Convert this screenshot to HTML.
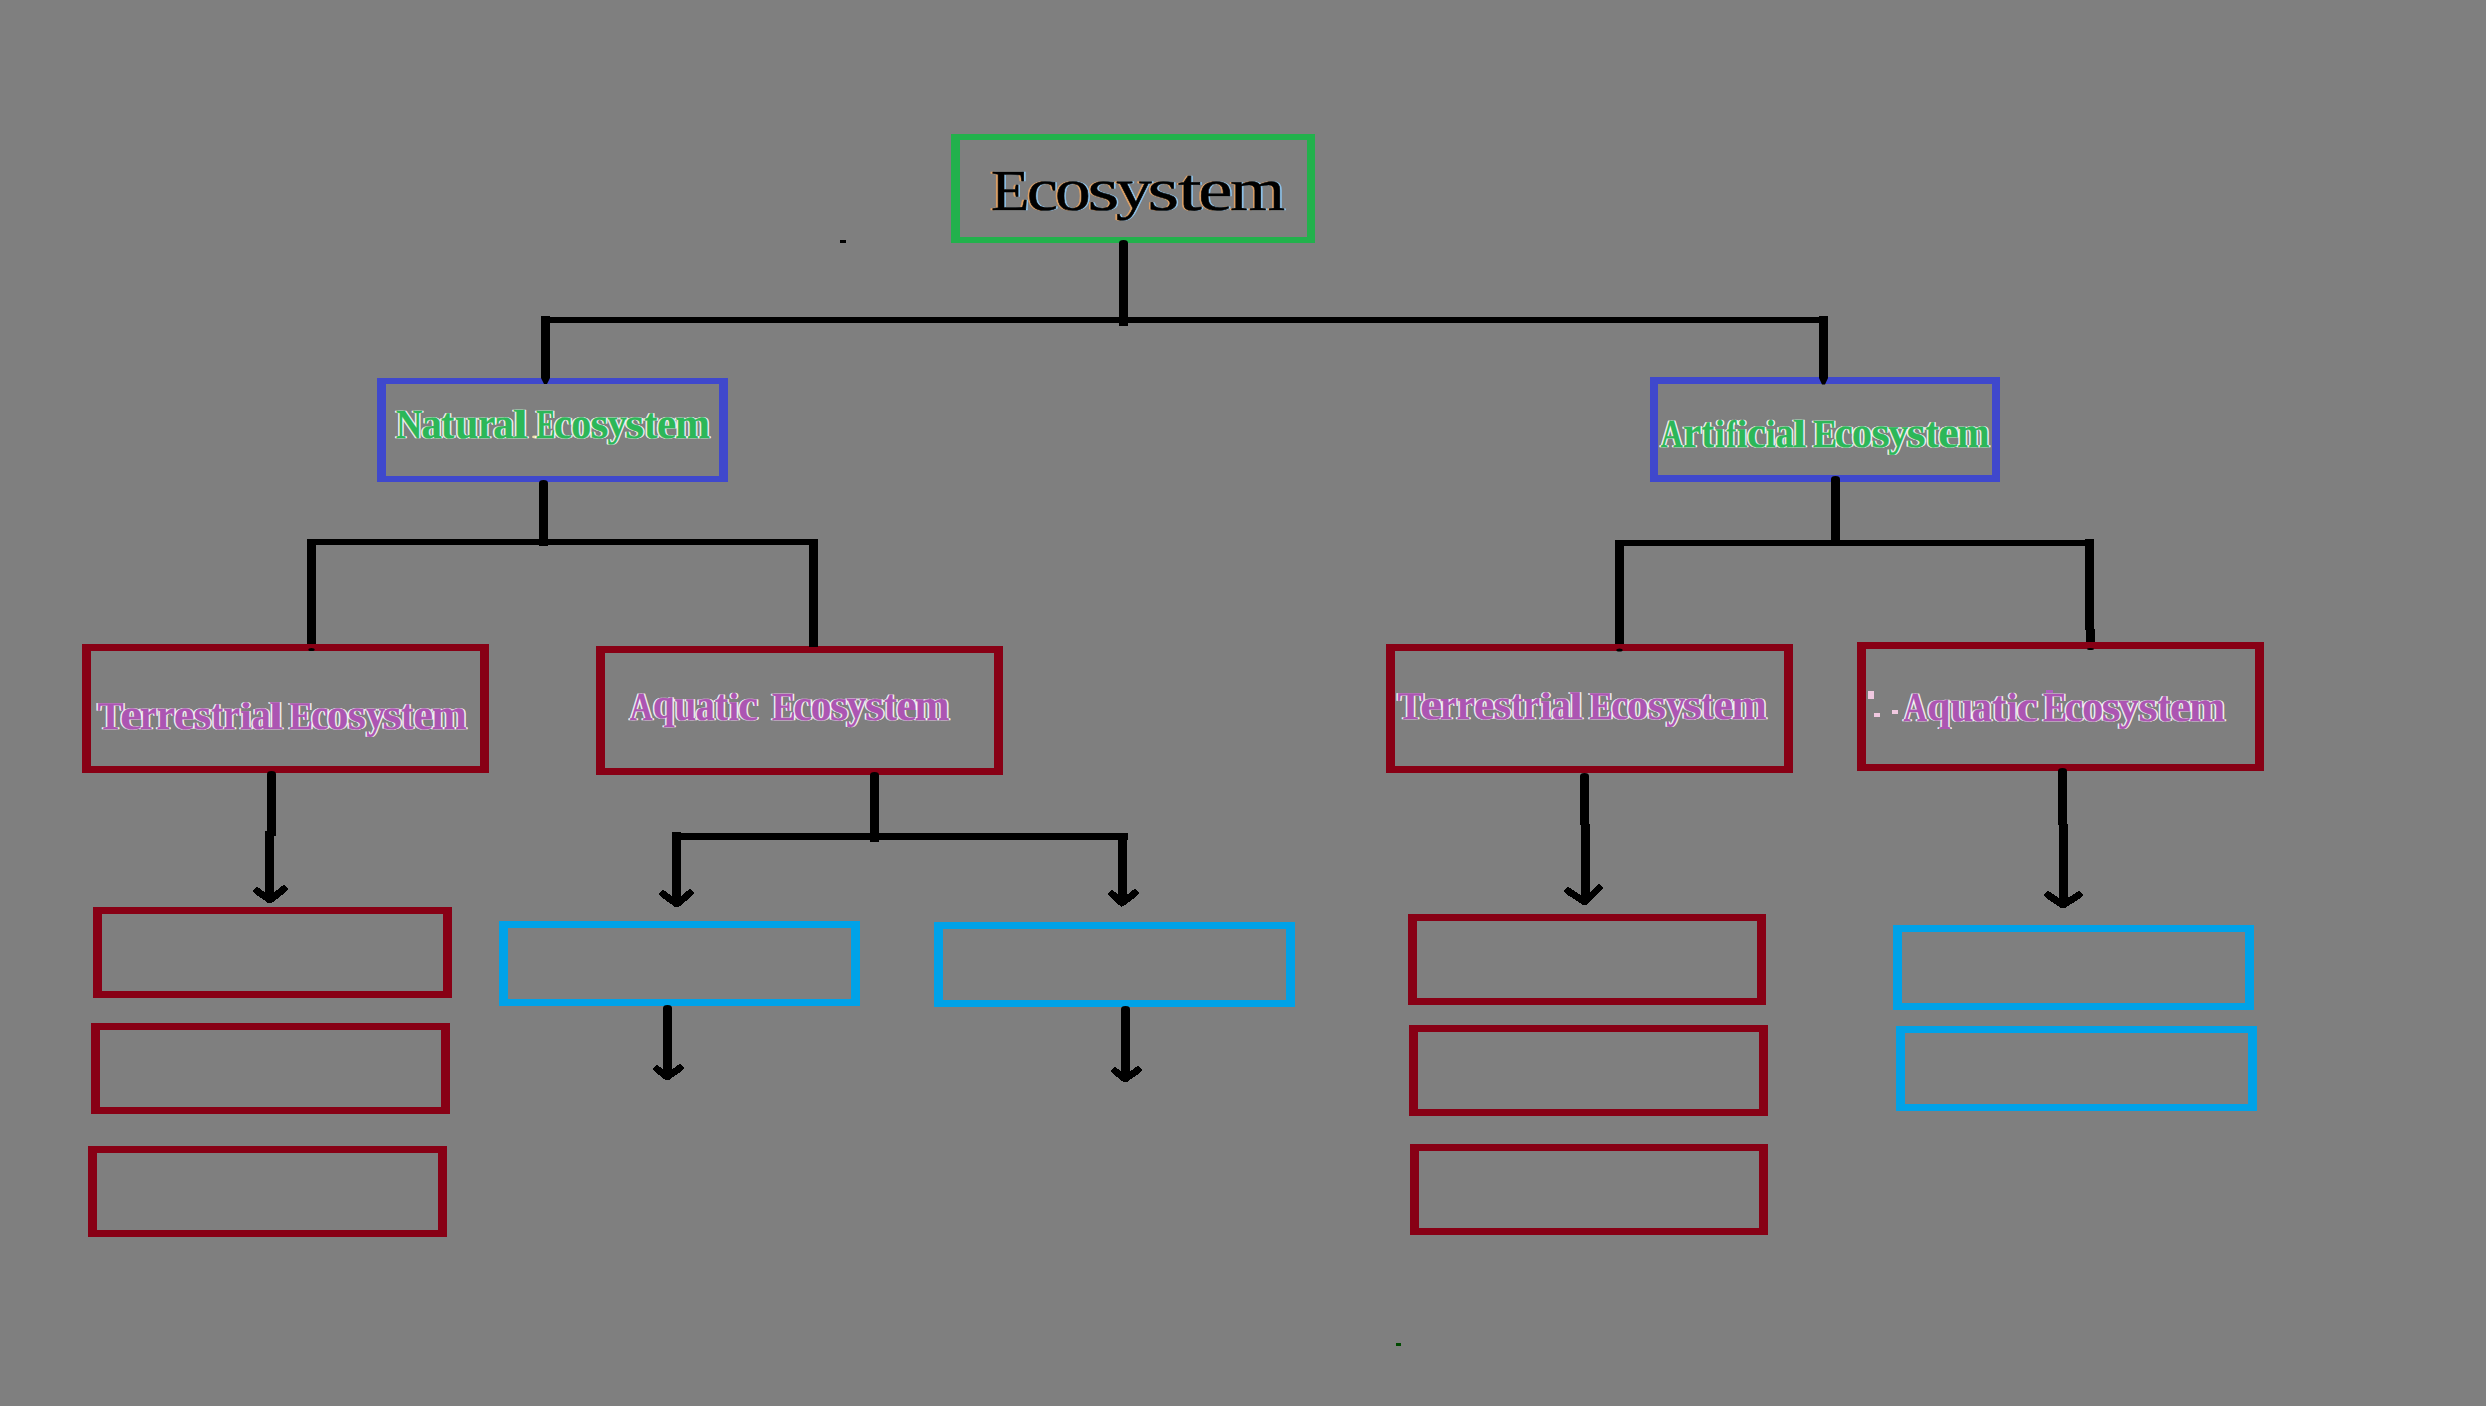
<!DOCTYPE html>
<html><head><meta charset="utf-8"><title>Ecosystem</title>
<style>
html,body{margin:0;padding:0;background:#7f7f7f;}
body{width:2486px;height:1406px;overflow:hidden;}
svg{display:block;}
text{font-family:"Liberation Serif",serif;}
</style></head>
<body>
<svg width="2486" height="1406" viewBox="0 0 2486 1406" shape-rendering="crispEdges">
<rect x="0" y="0" width="2486" height="1406" fill="#7f7f7f"/>
<g>
<rect x="951" y="134" width="364" height="6" fill="#22b14c"/>
<rect x="951" y="237" width="364" height="6" fill="#22b14c"/>
<rect x="951" y="134" width="9" height="109" fill="#22b14c"/>
<rect x="1307" y="134" width="8" height="109" fill="#22b14c"/>
<rect x="377" y="378" width="351" height="6" fill="#3f48cc"/>
<rect x="377" y="476" width="351" height="6" fill="#3f48cc"/>
<rect x="377" y="378" width="9" height="104" fill="#3f48cc"/>
<rect x="719" y="378" width="9" height="104" fill="#3f48cc"/>
<rect x="1650" y="377" width="350" height="7" fill="#3f48cc"/>
<rect x="1650" y="475" width="350" height="7" fill="#3f48cc"/>
<rect x="1650" y="377" width="8" height="105" fill="#3f48cc"/>
<rect x="1992" y="377" width="8" height="105" fill="#3f48cc"/>
<rect x="82" y="644" width="407" height="7" fill="#880015"/>
<rect x="82" y="766" width="407" height="7" fill="#880015"/>
<rect x="82" y="644" width="9" height="129" fill="#880015"/>
<rect x="480" y="644" width="9" height="129" fill="#880015"/>
<rect x="596" y="646" width="407" height="7" fill="#880015"/>
<rect x="596" y="768" width="407" height="7" fill="#880015"/>
<rect x="596" y="646" width="9" height="129" fill="#880015"/>
<rect x="994" y="646" width="9" height="129" fill="#880015"/>
<rect x="1386" y="644" width="407" height="7" fill="#880015"/>
<rect x="1386" y="766" width="407" height="7" fill="#880015"/>
<rect x="1386" y="644" width="9" height="129" fill="#880015"/>
<rect x="1784" y="644" width="9" height="129" fill="#880015"/>
<rect x="1857" y="642" width="407" height="7" fill="#880015"/>
<rect x="1857" y="764" width="407" height="7" fill="#880015"/>
<rect x="1857" y="642" width="9" height="129" fill="#880015"/>
<rect x="2255" y="642" width="9" height="129" fill="#880015"/>
<rect x="93" y="907" width="359" height="7" fill="#880015"/>
<rect x="93" y="991" width="359" height="7" fill="#880015"/>
<rect x="93" y="907" width="9" height="91" fill="#880015"/>
<rect x="443" y="907" width="9" height="91" fill="#880015"/>
<rect x="91" y="1023" width="359" height="7" fill="#880015"/>
<rect x="91" y="1107" width="359" height="7" fill="#880015"/>
<rect x="91" y="1023" width="9" height="91" fill="#880015"/>
<rect x="441" y="1023" width="9" height="91" fill="#880015"/>
<rect x="88" y="1146" width="359" height="7" fill="#880015"/>
<rect x="88" y="1230" width="359" height="7" fill="#880015"/>
<rect x="88" y="1146" width="9" height="91" fill="#880015"/>
<rect x="438" y="1146" width="9" height="91" fill="#880015"/>
<rect x="1408" y="914" width="358" height="7" fill="#880015"/>
<rect x="1408" y="998" width="358" height="7" fill="#880015"/>
<rect x="1408" y="914" width="9" height="91" fill="#880015"/>
<rect x="1757" y="914" width="9" height="91" fill="#880015"/>
<rect x="1409" y="1025" width="359" height="7" fill="#880015"/>
<rect x="1409" y="1109" width="359" height="7" fill="#880015"/>
<rect x="1409" y="1025" width="9" height="91" fill="#880015"/>
<rect x="1759" y="1025" width="9" height="91" fill="#880015"/>
<rect x="1410" y="1144" width="358" height="7" fill="#880015"/>
<rect x="1410" y="1228" width="358" height="7" fill="#880015"/>
<rect x="1410" y="1144" width="9" height="91" fill="#880015"/>
<rect x="1759" y="1144" width="9" height="91" fill="#880015"/>
<rect x="499" y="921" width="361" height="7" fill="#00a2e8"/>
<rect x="499" y="999" width="361" height="7" fill="#00a2e8"/>
<rect x="499" y="921" width="9" height="85" fill="#00a2e8"/>
<rect x="851" y="921" width="9" height="85" fill="#00a2e8"/>
<rect x="934" y="922" width="361" height="7" fill="#00a2e8"/>
<rect x="934" y="1000" width="361" height="7" fill="#00a2e8"/>
<rect x="934" y="922" width="9" height="85" fill="#00a2e8"/>
<rect x="1286" y="922" width="9" height="85" fill="#00a2e8"/>
<rect x="1893" y="925" width="361" height="7" fill="#00a2e8"/>
<rect x="1893" y="1003" width="361" height="7" fill="#00a2e8"/>
<rect x="1893" y="925" width="9" height="85" fill="#00a2e8"/>
<rect x="2245" y="925" width="9" height="85" fill="#00a2e8"/>
<rect x="1896" y="1026" width="361" height="7" fill="#00a2e8"/>
<rect x="1896" y="1104" width="361" height="7" fill="#00a2e8"/>
<rect x="1896" y="1026" width="9" height="85" fill="#00a2e8"/>
<rect x="2248" y="1026" width="9" height="85" fill="#00a2e8"/>
<rect x="1119" y="243.0" width="9" height="83.0" fill="#000"/>
<ellipse cx="1123.5" cy="243.0" rx="4.5" ry="3.0" fill="#000" shape-rendering="auto"/>
<rect x="541" y="317" width="1287" height="6" fill="#000"/>
<rect x="541" y="316" width="9" height="62" fill="#000"/>
<path d="M541,378 L550,378 L547.0,384 L544.0,384 Z" fill="#000" shape-rendering="auto"/>
<rect x="1819" y="316" width="9" height="62" fill="#000"/>
<path d="M1819,378 L1828,378 L1825.0,384.5 L1822.0,384.5 Z" fill="#000" shape-rendering="auto"/>
<rect x="539" y="483.0" width="9" height="63.0" fill="#000"/>
<ellipse cx="543.5" cy="483.0" rx="4.5" ry="3.0" fill="#000" shape-rendering="auto"/>
<rect x="307" y="539" width="511" height="6" fill="#000"/>
<rect x="307" y="540" width="9" height="104" fill="#000"/>
<ellipse cx="311.5" cy="649.5" rx="3.2" ry="1.6" fill="#000" shape-rendering="auto"/>
<rect x="809" y="539" width="9" height="108" fill="#000"/>
<rect x="1831" y="479.0" width="9" height="67.0" fill="#000"/>
<ellipse cx="1835.5" cy="479.0" rx="4.5" ry="3.0" fill="#000" shape-rendering="auto"/>
<rect x="1615" y="540" width="479" height="6" fill="#000"/>
<rect x="1615" y="540" width="9" height="104" fill="#000"/>
<ellipse cx="1619.5" cy="650" rx="3.2" ry="1.6" fill="#000" shape-rendering="auto"/>
<rect x="2085" y="539" width="9" height="91" fill="#000"/>
<rect x="2086" y="629" width="9" height="13" fill="#000"/>
<ellipse cx="2090.5" cy="649" rx="3.4" ry="1.1" fill="#000" shape-rendering="auto"/>
<rect x="870" y="775.0" width="9" height="67.0" fill="#000"/>
<ellipse cx="874.5" cy="775.0" rx="4.5" ry="3.0" fill="#000" shape-rendering="auto"/>
<rect x="672" y="833" width="456" height="7" fill="#000"/>
<rect x="672" y="832" width="9" height="72" fill="#000"/>
<rect x="1118" y="833" width="9" height="70" fill="#000"/>
<polyline points="663,894 677,904 690,893" fill="none" stroke="#000" stroke-width="7" stroke-linecap="round" stroke-linejoin="round"/>
<polyline points="1112,894 1122,903 1135,893" fill="none" stroke="#000" stroke-width="7" stroke-linecap="round" stroke-linejoin="round"/>
<rect x="267" y="774.0" width="9" height="62.0" fill="#000"/>
<ellipse cx="271.5" cy="774.0" rx="4.5" ry="3.0" fill="#000" shape-rendering="auto"/>
<rect x="265" y="831" width="9" height="69" fill="#000"/>
<polyline points="257,891 270,900 284,889" fill="none" stroke="#000" stroke-width="7" stroke-linecap="round" stroke-linejoin="round"/>
<rect x="1580" y="776.0" width="9" height="49.0" fill="#000"/>
<ellipse cx="1584.5" cy="776.0" rx="4.5" ry="3.0" fill="#000" shape-rendering="auto"/>
<rect x="1581" y="824" width="9" height="78" fill="#000"/>
<polyline points="1568,891 1585,902 1599,888" fill="none" stroke="#000" stroke-width="7" stroke-linecap="round" stroke-linejoin="round"/>
<rect x="2058" y="771.0" width="9" height="54.0" fill="#000"/>
<ellipse cx="2062.5" cy="771.0" rx="4.5" ry="3.0" fill="#000" shape-rendering="auto"/>
<rect x="2059" y="824" width="9" height="81" fill="#000"/>
<polyline points="2048,895 2063,905 2079,895" fill="none" stroke="#000" stroke-width="7" stroke-linecap="round" stroke-linejoin="round"/>
<rect x="663" y="1008.0" width="9" height="69.0" fill="#000"/>
<ellipse cx="667.5" cy="1008.0" rx="4.5" ry="3.0" fill="#000" shape-rendering="auto"/>
<polyline points="657,1069 667,1077 680,1068" fill="none" stroke="#000" stroke-width="7" stroke-linecap="round" stroke-linejoin="round"/>
<rect x="1121" y="1009.0" width="9" height="70.0" fill="#000"/>
<ellipse cx="1125.5" cy="1009.0" rx="4.5" ry="3.0" fill="#000" shape-rendering="auto"/>
<polyline points="1115,1071 1125,1079 1138,1070" fill="none" stroke="#000" stroke-width="7" stroke-linecap="round" stroke-linejoin="round"/>
<ellipse cx="535" cy="437" rx="3" ry="1.4" fill="#f0e0a8" shape-rendering="auto"/>
<rect x="840" y="240" width="6" height="3" fill="#000"/>
<rect x="1396" y="1343" width="5" height="3" fill="#004a00"/>
<rect x="2046" y="690" width="7" height="3" fill="#b060c0"/>
<rect x="1868" y="691" width="6" height="8" fill="#f0c8e0"/>
<rect x="1874" y="713" width="6" height="4" fill="#f0c8e0"/>
<rect x="1892" y="710" width="6" height="4" fill="#f0c8e0"/>
</g>
<g shape-rendering="auto" text-rendering="geometricPrecision">
<text transform="matrix(1.0846 0 0 1.0000 989.09 210.00)" font-size="58.03" font-weight="normal" fill="#f0a860" fill-opacity="0.8" stroke="#f0a860" stroke-opacity="0.8" stroke-width="0.3">E</text>
<text transform="matrix(1.0846 0 0 1.0000 992.69 210.00)" font-size="58.03" font-weight="normal" fill="#90d0ff" fill-opacity="0.8" stroke="#90d0ff" stroke-opacity="0.8" stroke-width="0.3">E</text>
<text transform="matrix(1.1993 0 0 1.0437 1025.25 210.00)" font-size="58.03" font-weight="normal" fill="#f0a860" fill-opacity="0.8" stroke="#f0a860" stroke-opacity="0.8" stroke-width="0.3">c</text>
<text transform="matrix(1.1993 0 0 1.0437 1028.85 210.00)" font-size="58.03" font-weight="normal" fill="#90d0ff" fill-opacity="0.8" stroke="#90d0ff" stroke-opacity="0.8" stroke-width="0.3">c</text>
<text transform="matrix(1.2319 0 0 1.0437 1053.18 210.00)" font-size="58.03" font-weight="normal" fill="#f0a860" fill-opacity="0.8" stroke="#f0a860" stroke-opacity="0.8" stroke-width="0.3">o</text>
<text transform="matrix(1.2319 0 0 1.0437 1056.78 210.00)" font-size="58.03" font-weight="normal" fill="#90d0ff" fill-opacity="0.8" stroke="#90d0ff" stroke-opacity="0.8" stroke-width="0.3">o</text>
<text transform="matrix(1.4083 0 0 1.0437 1085.75 210.00)" font-size="58.03" font-weight="normal" fill="#f0a860" fill-opacity="0.8" stroke="#f0a860" stroke-opacity="0.8" stroke-width="0.3">s</text>
<text transform="matrix(1.4083 0 0 1.0437 1089.35 210.00)" font-size="58.03" font-weight="normal" fill="#90d0ff" fill-opacity="0.8" stroke="#90d0ff" stroke-opacity="0.8" stroke-width="0.3">s</text>
<text transform="matrix(1.2393 0 0 0.9857 1114.12 208.45)" font-size="58.03" font-weight="normal" fill="#f0a860" fill-opacity="0.8" stroke="#f0a860" stroke-opacity="0.8" stroke-width="0.3">y</text>
<text transform="matrix(1.2393 0 0 0.9857 1117.72 208.45)" font-size="58.03" font-weight="normal" fill="#90d0ff" fill-opacity="0.8" stroke="#90d0ff" stroke-opacity="0.8" stroke-width="0.3">y</text>
<text transform="matrix(1.4028 0 0 1.0437 1145.66 210.00)" font-size="58.03" font-weight="normal" fill="#f0a860" fill-opacity="0.8" stroke="#f0a860" stroke-opacity="0.8" stroke-width="0.3">s</text>
<text transform="matrix(1.4028 0 0 1.0437 1149.26 210.00)" font-size="58.03" font-weight="normal" fill="#90d0ff" fill-opacity="0.8" stroke="#90d0ff" stroke-opacity="0.8" stroke-width="0.3">s</text>
<text transform="matrix(1.4721 0 0 1.0437 1176.17 210.00)" font-size="58.03" font-weight="normal" fill="#f0a860" fill-opacity="0.8" stroke="#f0a860" stroke-opacity="0.8" stroke-width="0.3">t</text>
<text transform="matrix(1.4721 0 0 1.0437 1179.77 210.00)" font-size="58.03" font-weight="normal" fill="#90d0ff" fill-opacity="0.8" stroke="#90d0ff" stroke-opacity="0.8" stroke-width="0.3">t</text>
<text transform="matrix(1.3315 0 0 1.0437 1196.48 210.00)" font-size="58.03" font-weight="normal" fill="#f0a860" fill-opacity="0.8" stroke="#f0a860" stroke-opacity="0.8" stroke-width="0.3">e</text>
<text transform="matrix(1.3315 0 0 1.0437 1200.08 210.00)" font-size="58.03" font-weight="normal" fill="#90d0ff" fill-opacity="0.8" stroke="#90d0ff" stroke-opacity="0.8" stroke-width="0.3">e</text>
<text transform="matrix(1.2135 0 0 1.0437 1228.52 210.00)" font-size="58.03" font-weight="normal" fill="#f0a860" fill-opacity="0.8" stroke="#f0a860" stroke-opacity="0.8" stroke-width="0.3">m</text>
<text transform="matrix(1.2135 0 0 1.0437 1232.12 210.00)" font-size="58.03" font-weight="normal" fill="#90d0ff" fill-opacity="0.8" stroke="#90d0ff" stroke-opacity="0.8" stroke-width="0.3">m</text>
<text transform="matrix(0.8858 0 0 1.0000 394.50 438.00)" font-size="41.23" font-weight="bold" fill="#fff" fill-opacity="0.9" stroke="#fff" stroke-opacity="0.9" stroke-width="0.3">N</text>
<text transform="matrix(0.8858 0 0 1.0000 397.50 438.00)" font-size="41.23" font-weight="bold" fill="#fff" fill-opacity="0.9" stroke="#fff" stroke-opacity="0.9" stroke-width="0.3">N</text>
<text transform="matrix(0.9859 0 0 1.0568 419.99 438.00)" font-size="41.23" font-weight="bold" fill="#fff" fill-opacity="0.9" stroke="#fff" stroke-opacity="0.9" stroke-width="0.3">a</text>
<text transform="matrix(0.9859 0 0 1.0568 422.99 438.00)" font-size="41.23" font-weight="bold" fill="#fff" fill-opacity="0.9" stroke="#fff" stroke-opacity="0.9" stroke-width="0.3">a</text>
<text transform="matrix(0.9623 0 0 1.0568 439.56 438.00)" font-size="41.23" font-weight="bold" fill="#fff" fill-opacity="0.9" stroke="#fff" stroke-opacity="0.9" stroke-width="0.3">t</text>
<text transform="matrix(0.9623 0 0 1.0568 442.56 438.00)" font-size="41.23" font-weight="bold" fill="#fff" fill-opacity="0.9" stroke="#fff" stroke-opacity="0.9" stroke-width="0.3">t</text>
<text transform="matrix(1.0094 0 0 1.0568 453.77 438.00)" font-size="41.23" font-weight="bold" fill="#fff" fill-opacity="0.9" stroke="#fff" stroke-opacity="0.9" stroke-width="0.3">u</text>
<text transform="matrix(1.0094 0 0 1.0568 456.77 438.00)" font-size="41.23" font-weight="bold" fill="#fff" fill-opacity="0.9" stroke="#fff" stroke-opacity="0.9" stroke-width="0.3">u</text>
<text transform="matrix(0.9504 0 0 1.0568 476.55 438.00)" font-size="41.23" font-weight="bold" fill="#fff" fill-opacity="0.9" stroke="#fff" stroke-opacity="0.9" stroke-width="0.3">r</text>
<text transform="matrix(0.9504 0 0 1.0568 479.55 438.00)" font-size="41.23" font-weight="bold" fill="#fff" fill-opacity="0.9" stroke="#fff" stroke-opacity="0.9" stroke-width="0.3">r</text>
<text transform="matrix(1.0073 0 0 1.0568 491.66 438.00)" font-size="41.23" font-weight="bold" fill="#fff" fill-opacity="0.9" stroke="#fff" stroke-opacity="0.9" stroke-width="0.3">a</text>
<text transform="matrix(1.0073 0 0 1.0568 494.66 438.00)" font-size="41.23" font-weight="bold" fill="#fff" fill-opacity="0.9" stroke="#fff" stroke-opacity="0.9" stroke-width="0.3">a</text>
<text transform="matrix(1.3372 0 0 0.9787 511.22 438.00)" font-size="41.23" font-weight="bold" fill="#fff" fill-opacity="0.9" stroke="#fff" stroke-opacity="0.9" stroke-width="0.3">l</text>
<text transform="matrix(1.3372 0 0 0.9787 514.22 438.00)" font-size="41.23" font-weight="bold" fill="#fff" fill-opacity="0.9" stroke="#fff" stroke-opacity="0.9" stroke-width="0.3">l</text>
<text transform="matrix(0.6968 0 0 1.0000 534.71 438.00)" font-size="41.23" font-weight="bold" fill="#fff" fill-opacity="0.9" stroke="#fff" stroke-opacity="0.9" stroke-width="0.3">E</text>
<text transform="matrix(0.6968 0 0 1.0000 537.71 438.00)" font-size="41.23" font-weight="bold" fill="#fff" fill-opacity="0.9" stroke="#fff" stroke-opacity="0.9" stroke-width="0.3">E</text>
<text transform="matrix(0.9770 0 0 1.0568 552.52 438.00)" font-size="41.23" font-weight="bold" fill="#fff" fill-opacity="0.9" stroke="#fff" stroke-opacity="0.9" stroke-width="0.3">c</text>
<text transform="matrix(0.9770 0 0 1.0568 555.52 438.00)" font-size="41.23" font-weight="bold" fill="#fff" fill-opacity="0.9" stroke="#fff" stroke-opacity="0.9" stroke-width="0.3">c</text>
<text transform="matrix(0.9670 0 0 1.0568 569.68 438.00)" font-size="41.23" font-weight="bold" fill="#fff" fill-opacity="0.9" stroke="#fff" stroke-opacity="0.9" stroke-width="0.3">o</text>
<text transform="matrix(0.9670 0 0 1.0568 572.68 438.00)" font-size="41.23" font-weight="bold" fill="#fff" fill-opacity="0.9" stroke="#fff" stroke-opacity="0.9" stroke-width="0.3">o</text>
<text transform="matrix(1.1094 0 0 1.0568 589.12 438.00)" font-size="41.23" font-weight="bold" fill="#fff" fill-opacity="0.9" stroke="#fff" stroke-opacity="0.9" stroke-width="0.3">s</text>
<text transform="matrix(1.1094 0 0 1.0568 592.12 438.00)" font-size="41.23" font-weight="bold" fill="#fff" fill-opacity="0.9" stroke="#fff" stroke-opacity="0.9" stroke-width="0.3">s</text>
<text transform="matrix(0.9338 0 0 0.9596 605.92 436.16)" font-size="41.23" font-weight="bold" fill="#fff" fill-opacity="0.9" stroke="#fff" stroke-opacity="0.9" stroke-width="0.3">y</text>
<text transform="matrix(0.9338 0 0 0.9596 608.92 436.16)" font-size="41.23" font-weight="bold" fill="#fff" fill-opacity="0.9" stroke="#fff" stroke-opacity="0.9" stroke-width="0.3">y</text>
<text transform="matrix(1.1746 0 0 1.0568 623.83 438.00)" font-size="41.23" font-weight="bold" fill="#fff" fill-opacity="0.9" stroke="#fff" stroke-opacity="0.9" stroke-width="0.3">s</text>
<text transform="matrix(1.1746 0 0 1.0568 626.83 438.00)" font-size="41.23" font-weight="bold" fill="#fff" fill-opacity="0.9" stroke="#fff" stroke-opacity="0.9" stroke-width="0.3">s</text>
<text transform="matrix(0.9546 0 0 1.0568 642.67 438.00)" font-size="41.23" font-weight="bold" fill="#fff" fill-opacity="0.9" stroke="#fff" stroke-opacity="0.9" stroke-width="0.3">t</text>
<text transform="matrix(0.9546 0 0 1.0568 645.67 438.00)" font-size="41.23" font-weight="bold" fill="#fff" fill-opacity="0.9" stroke="#fff" stroke-opacity="0.9" stroke-width="0.3">t</text>
<text transform="matrix(1.0490 0 0 1.0568 655.62 438.00)" font-size="41.23" font-weight="bold" fill="#fff" fill-opacity="0.9" stroke="#fff" stroke-opacity="0.9" stroke-width="0.3">e</text>
<text transform="matrix(1.0490 0 0 1.0568 658.62 438.00)" font-size="41.23" font-weight="bold" fill="#fff" fill-opacity="0.9" stroke="#fff" stroke-opacity="0.9" stroke-width="0.3">e</text>
<text transform="matrix(1.0081 0 0 1.0568 673.68 438.00)" font-size="41.23" font-weight="bold" fill="#fff" fill-opacity="0.9" stroke="#fff" stroke-opacity="0.9" stroke-width="0.3">m</text>
<text transform="matrix(1.0081 0 0 1.0568 676.68 438.00)" font-size="41.23" font-weight="bold" fill="#fff" fill-opacity="0.9" stroke="#fff" stroke-opacity="0.9" stroke-width="0.3">m</text>
<text transform="matrix(0.7644 0 0 1.0000 1659.20 447.00)" font-size="39.71" font-weight="bold" fill="#fff" fill-opacity="0.9" stroke="#fff" stroke-opacity="0.9" stroke-width="0.3">A</text>
<text transform="matrix(0.7644 0 0 1.0000 1662.20 447.00)" font-size="39.71" font-weight="bold" fill="#fff" fill-opacity="0.9" stroke="#fff" stroke-opacity="0.9" stroke-width="0.3">A</text>
<text transform="matrix(1.0316 0 0 1.0974 1681.60 447.00)" font-size="39.71" font-weight="bold" fill="#fff" fill-opacity="0.9" stroke="#fff" stroke-opacity="0.9" stroke-width="0.3">r</text>
<text transform="matrix(1.0316 0 0 1.0974 1684.60 447.00)" font-size="39.71" font-weight="bold" fill="#fff" fill-opacity="0.9" stroke="#fff" stroke-opacity="0.9" stroke-width="0.3">r</text>
<text transform="matrix(0.9429 0 0 1.0974 1700.10 447.00)" font-size="39.71" font-weight="bold" fill="#fff" fill-opacity="0.9" stroke="#fff" stroke-opacity="0.9" stroke-width="0.3">t</text>
<text transform="matrix(0.9429 0 0 1.0974 1703.10 447.00)" font-size="39.71" font-weight="bold" fill="#fff" fill-opacity="0.9" stroke="#fff" stroke-opacity="0.9" stroke-width="0.3">t</text>
<text transform="matrix(0.8875 0 0 0.9800 1713.43 447.00)" font-size="39.71" font-weight="bold" fill="#fff" fill-opacity="0.9" stroke="#fff" stroke-opacity="0.9" stroke-width="0.3">i</text>
<text transform="matrix(0.8875 0 0 0.9800 1716.43 447.00)" font-size="39.71" font-weight="bold" fill="#fff" fill-opacity="0.9" stroke="#fff" stroke-opacity="0.9" stroke-width="0.3">i</text>
<text transform="matrix(0.7358 0 0 0.9657 1724.99 447.00)" font-size="39.71" font-weight="bold" fill="#fff" fill-opacity="0.9" stroke="#fff" stroke-opacity="0.9" stroke-width="0.3">f</text>
<text transform="matrix(0.7358 0 0 0.9657 1727.99 447.00)" font-size="39.71" font-weight="bold" fill="#fff" fill-opacity="0.9" stroke="#fff" stroke-opacity="0.9" stroke-width="0.3">f</text>
<text transform="matrix(0.9606 0 0 0.9800 1735.26 447.00)" font-size="39.71" font-weight="bold" fill="#fff" fill-opacity="0.9" stroke="#fff" stroke-opacity="0.9" stroke-width="0.3">i</text>
<text transform="matrix(0.9606 0 0 0.9800 1738.26 447.00)" font-size="39.71" font-weight="bold" fill="#fff" fill-opacity="0.9" stroke="#fff" stroke-opacity="0.9" stroke-width="0.3">i</text>
<text transform="matrix(1.0604 0 0 1.0974 1745.66 447.00)" font-size="39.71" font-weight="bold" fill="#fff" fill-opacity="0.9" stroke="#fff" stroke-opacity="0.9" stroke-width="0.3">c</text>
<text transform="matrix(1.0604 0 0 1.0974 1748.66 447.00)" font-size="39.71" font-weight="bold" fill="#fff" fill-opacity="0.9" stroke="#fff" stroke-opacity="0.9" stroke-width="0.3">c</text>
<text transform="matrix(0.8875 0 0 0.9800 1764.33 447.00)" font-size="39.71" font-weight="bold" fill="#fff" fill-opacity="0.9" stroke="#fff" stroke-opacity="0.9" stroke-width="0.3">i</text>
<text transform="matrix(0.8875 0 0 0.9800 1767.33 447.00)" font-size="39.71" font-weight="bold" fill="#fff" fill-opacity="0.9" stroke="#fff" stroke-opacity="0.9" stroke-width="0.3">i</text>
<text transform="matrix(0.9014 0 0 1.0974 1774.25 447.00)" font-size="39.71" font-weight="bold" fill="#fff" fill-opacity="0.9" stroke="#fff" stroke-opacity="0.9" stroke-width="0.3">a</text>
<text transform="matrix(0.9014 0 0 1.0974 1777.25 447.00)" font-size="39.71" font-weight="bold" fill="#fff" fill-opacity="0.9" stroke="#fff" stroke-opacity="0.9" stroke-width="0.3">a</text>
<text transform="matrix(1.2216 0 0 0.9800 1791.15 447.00)" font-size="39.71" font-weight="bold" fill="#fff" fill-opacity="0.9" stroke="#fff" stroke-opacity="0.9" stroke-width="0.3">l</text>
<text transform="matrix(1.2216 0 0 0.9800 1794.15 447.00)" font-size="39.71" font-weight="bold" fill="#fff" fill-opacity="0.9" stroke="#fff" stroke-opacity="0.9" stroke-width="0.3">l</text>
<text transform="matrix(0.9129 0 0 1.0000 1811.48 447.00)" font-size="39.71" font-weight="bold" fill="#fff" fill-opacity="0.9" stroke="#fff" stroke-opacity="0.9" stroke-width="0.3">E</text>
<text transform="matrix(0.9129 0 0 1.0000 1814.48 447.00)" font-size="39.71" font-weight="bold" fill="#fff" fill-opacity="0.9" stroke="#fff" stroke-opacity="0.9" stroke-width="0.3">E</text>
<text transform="matrix(1.0211 0 0 1.0974 1833.21 447.00)" font-size="39.71" font-weight="bold" fill="#fff" fill-opacity="0.9" stroke="#fff" stroke-opacity="0.9" stroke-width="0.3">c</text>
<text transform="matrix(1.0211 0 0 1.0974 1836.21 447.00)" font-size="39.71" font-weight="bold" fill="#fff" fill-opacity="0.9" stroke="#fff" stroke-opacity="0.9" stroke-width="0.3">c</text>
<text transform="matrix(1.0042 0 0 1.0974 1850.48 447.00)" font-size="39.71" font-weight="bold" fill="#fff" fill-opacity="0.9" stroke="#fff" stroke-opacity="0.9" stroke-width="0.3">o</text>
<text transform="matrix(1.0042 0 0 1.0974 1853.48 447.00)" font-size="39.71" font-weight="bold" fill="#fff" fill-opacity="0.9" stroke="#fff" stroke-opacity="0.9" stroke-width="0.3">o</text>
<text transform="matrix(1.1746 0 0 1.0974 1869.89 447.00)" font-size="39.71" font-weight="bold" fill="#fff" fill-opacity="0.9" stroke="#fff" stroke-opacity="0.9" stroke-width="0.3">s</text>
<text transform="matrix(1.1746 0 0 1.0974 1872.89 447.00)" font-size="39.71" font-weight="bold" fill="#fff" fill-opacity="0.9" stroke="#fff" stroke-opacity="0.9" stroke-width="0.3">s</text>
<text transform="matrix(1.0012 0 0 1.0338 1886.71 445.84)" font-size="39.71" font-weight="bold" fill="#fff" fill-opacity="0.9" stroke="#fff" stroke-opacity="0.9" stroke-width="0.3">y</text>
<text transform="matrix(1.0012 0 0 1.0338 1889.71 445.84)" font-size="39.71" font-weight="bold" fill="#fff" fill-opacity="0.9" stroke="#fff" stroke-opacity="0.9" stroke-width="0.3">y</text>
<text transform="matrix(1.2198 0 0 1.0974 1905.23 447.00)" font-size="39.71" font-weight="bold" fill="#fff" fill-opacity="0.9" stroke="#fff" stroke-opacity="0.9" stroke-width="0.3">s</text>
<text transform="matrix(1.2198 0 0 1.0974 1908.23 447.00)" font-size="39.71" font-weight="bold" fill="#fff" fill-opacity="0.9" stroke="#fff" stroke-opacity="0.9" stroke-width="0.3">s</text>
<text transform="matrix(0.9993 0 0 1.0974 1924.06 447.00)" font-size="39.71" font-weight="bold" fill="#fff" fill-opacity="0.9" stroke="#fff" stroke-opacity="0.9" stroke-width="0.3">t</text>
<text transform="matrix(0.9993 0 0 1.0974 1927.06 447.00)" font-size="39.71" font-weight="bold" fill="#fff" fill-opacity="0.9" stroke="#fff" stroke-opacity="0.9" stroke-width="0.3">t</text>
<text transform="matrix(1.1549 0 0 1.0974 1936.63 447.00)" font-size="39.71" font-weight="bold" fill="#fff" fill-opacity="0.9" stroke="#fff" stroke-opacity="0.9" stroke-width="0.3">e</text>
<text transform="matrix(1.1549 0 0 1.0974 1939.63 447.00)" font-size="39.71" font-weight="bold" fill="#fff" fill-opacity="0.9" stroke="#fff" stroke-opacity="0.9" stroke-width="0.3">e</text>
<text transform="matrix(0.9735 0 0 1.0974 1955.86 447.00)" font-size="39.71" font-weight="bold" fill="#fff" fill-opacity="0.9" stroke="#fff" stroke-opacity="0.9" stroke-width="0.3">m</text>
<text transform="matrix(0.9735 0 0 1.0974 1958.86 447.00)" font-size="39.71" font-weight="bold" fill="#fff" fill-opacity="0.9" stroke="#fff" stroke-opacity="0.9" stroke-width="0.3">m</text>
<text transform="matrix(0.9973 0 0 1.0000 95.89 728.80)" font-size="39.40" font-weight="bold" fill="#fff" fill-opacity="0.9" stroke="#fff" stroke-opacity="0.9" stroke-width="0.3">T</text>
<text transform="matrix(0.9973 0 0 1.0000 98.89 728.80)" font-size="39.40" font-weight="bold" fill="#fff" fill-opacity="0.9" stroke="#fff" stroke-opacity="0.9" stroke-width="0.3">T</text>
<text transform="matrix(1.2432 0 0 1.1059 118.73 728.80)" font-size="39.40" font-weight="bold" fill="#fff" fill-opacity="0.9" stroke="#fff" stroke-opacity="0.9" stroke-width="0.3">e</text>
<text transform="matrix(1.2432 0 0 1.1059 121.73 728.80)" font-size="39.40" font-weight="bold" fill="#fff" fill-opacity="0.9" stroke="#fff" stroke-opacity="0.9" stroke-width="0.3">e</text>
<text transform="matrix(0.9818 0 0 1.1059 138.26 728.80)" font-size="39.40" font-weight="bold" fill="#fff" fill-opacity="0.9" stroke="#fff" stroke-opacity="0.9" stroke-width="0.3">r</text>
<text transform="matrix(0.9818 0 0 1.1059 141.26 728.80)" font-size="39.40" font-weight="bold" fill="#fff" fill-opacity="0.9" stroke="#fff" stroke-opacity="0.9" stroke-width="0.3">r</text>
<text transform="matrix(1.0588 0 0 1.1059 154.98 728.80)" font-size="39.40" font-weight="bold" fill="#fff" fill-opacity="0.9" stroke="#fff" stroke-opacity="0.9" stroke-width="0.3">r</text>
<text transform="matrix(1.0588 0 0 1.1059 157.98 728.80)" font-size="39.40" font-weight="bold" fill="#fff" fill-opacity="0.9" stroke="#fff" stroke-opacity="0.9" stroke-width="0.3">r</text>
<text transform="matrix(1.1573 0 0 1.1059 172.54 728.80)" font-size="39.40" font-weight="bold" fill="#fff" fill-opacity="0.9" stroke="#fff" stroke-opacity="0.9" stroke-width="0.3">e</text>
<text transform="matrix(1.1573 0 0 1.1059 175.54 728.80)" font-size="39.40" font-weight="bold" fill="#fff" fill-opacity="0.9" stroke="#fff" stroke-opacity="0.9" stroke-width="0.3">e</text>
<text transform="matrix(1.1534 0 0 1.1059 192.02 728.80)" font-size="39.40" font-weight="bold" fill="#fff" fill-opacity="0.9" stroke="#fff" stroke-opacity="0.9" stroke-width="0.3">s</text>
<text transform="matrix(1.1534 0 0 1.1059 195.02 728.80)" font-size="39.40" font-weight="bold" fill="#fff" fill-opacity="0.9" stroke="#fff" stroke-opacity="0.9" stroke-width="0.3">s</text>
<text transform="matrix(0.9015 0 0 1.1059 209.83 728.80)" font-size="39.40" font-weight="bold" fill="#fff" fill-opacity="0.9" stroke="#fff" stroke-opacity="0.9" stroke-width="0.3">t</text>
<text transform="matrix(0.9015 0 0 1.1059 212.83 728.80)" font-size="39.40" font-weight="bold" fill="#fff" fill-opacity="0.9" stroke="#fff" stroke-opacity="0.9" stroke-width="0.3">t</text>
<text transform="matrix(0.9561 0 0 1.1059 221.69 728.80)" font-size="39.40" font-weight="bold" fill="#fff" fill-opacity="0.9" stroke="#fff" stroke-opacity="0.9" stroke-width="0.3">r</text>
<text transform="matrix(0.9561 0 0 1.1059 224.69 728.80)" font-size="39.40" font-weight="bold" fill="#fff" fill-opacity="0.9" stroke="#fff" stroke-opacity="0.9" stroke-width="0.3">r</text>
<text transform="matrix(1.0732 0 0 0.9803 238.57 728.80)" font-size="39.40" font-weight="bold" fill="#fff" fill-opacity="0.9" stroke="#fff" stroke-opacity="0.9" stroke-width="0.3">i</text>
<text transform="matrix(1.0732 0 0 0.9803 241.57 728.80)" font-size="39.40" font-weight="bold" fill="#fff" fill-opacity="0.9" stroke="#fff" stroke-opacity="0.9" stroke-width="0.3">i</text>
<text transform="matrix(0.9588 0 0 1.1059 250.28 728.80)" font-size="39.40" font-weight="bold" fill="#fff" fill-opacity="0.9" stroke="#fff" stroke-opacity="0.9" stroke-width="0.3">a</text>
<text transform="matrix(0.9588 0 0 1.1059 253.28 728.80)" font-size="39.40" font-weight="bold" fill="#fff" fill-opacity="0.9" stroke="#fff" stroke-opacity="0.9" stroke-width="0.3">a</text>
<text transform="matrix(1.2731 0 0 0.9803 267.52 728.80)" font-size="39.40" font-weight="bold" fill="#fff" fill-opacity="0.9" stroke="#fff" stroke-opacity="0.9" stroke-width="0.3">l</text>
<text transform="matrix(1.2731 0 0 0.9803 270.52 728.80)" font-size="39.40" font-weight="bold" fill="#fff" fill-opacity="0.9" stroke="#fff" stroke-opacity="0.9" stroke-width="0.3">l</text>
<text transform="matrix(0.9073 0 0 1.0000 287.79 728.80)" font-size="39.40" font-weight="bold" fill="#fff" fill-opacity="0.9" stroke="#fff" stroke-opacity="0.9" stroke-width="0.3">E</text>
<text transform="matrix(0.9073 0 0 1.0000 290.79 728.80)" font-size="39.40" font-weight="bold" fill="#fff" fill-opacity="0.9" stroke="#fff" stroke-opacity="0.9" stroke-width="0.3">E</text>
<text transform="matrix(0.9828 0 0 1.1059 309.68 728.80)" font-size="39.40" font-weight="bold" fill="#fff" fill-opacity="0.9" stroke="#fff" stroke-opacity="0.9" stroke-width="0.3">c</text>
<text transform="matrix(0.9828 0 0 1.1059 312.68 728.80)" font-size="39.40" font-weight="bold" fill="#fff" fill-opacity="0.9" stroke="#fff" stroke-opacity="0.9" stroke-width="0.3">c</text>
<text transform="matrix(1.0839 0 0 1.1059 325.47 728.80)" font-size="39.40" font-weight="bold" fill="#fff" fill-opacity="0.9" stroke="#fff" stroke-opacity="0.9" stroke-width="0.3">o</text>
<text transform="matrix(1.0839 0 0 1.1059 328.47 728.80)" font-size="39.40" font-weight="bold" fill="#fff" fill-opacity="0.9" stroke="#fff" stroke-opacity="0.9" stroke-width="0.3">o</text>
<text transform="matrix(1.1761 0 0 1.1059 346.30 728.80)" font-size="39.40" font-weight="bold" fill="#fff" fill-opacity="0.9" stroke="#fff" stroke-opacity="0.9" stroke-width="0.3">s</text>
<text transform="matrix(1.1761 0 0 1.1059 349.30 728.80)" font-size="39.40" font-weight="bold" fill="#fff" fill-opacity="0.9" stroke="#fff" stroke-opacity="0.9" stroke-width="0.3">s</text>
<text transform="matrix(0.9614 0 0 1.0531 364.63 727.84)" font-size="39.40" font-weight="bold" fill="#fff" fill-opacity="0.9" stroke="#fff" stroke-opacity="0.9" stroke-width="0.3">y</text>
<text transform="matrix(0.9614 0 0 1.0531 367.63 727.84)" font-size="39.40" font-weight="bold" fill="#fff" fill-opacity="0.9" stroke="#fff" stroke-opacity="0.9" stroke-width="0.3">y</text>
<text transform="matrix(1.2444 0 0 1.1059 380.92 728.80)" font-size="39.40" font-weight="bold" fill="#fff" fill-opacity="0.9" stroke="#fff" stroke-opacity="0.9" stroke-width="0.3">s</text>
<text transform="matrix(1.2444 0 0 1.1059 383.92 728.80)" font-size="39.40" font-weight="bold" fill="#fff" fill-opacity="0.9" stroke="#fff" stroke-opacity="0.9" stroke-width="0.3">s</text>
<text transform="matrix(0.9259 0 0 1.1059 399.81 728.80)" font-size="39.40" font-weight="bold" fill="#fff" fill-opacity="0.9" stroke="#fff" stroke-opacity="0.9" stroke-width="0.3">t</text>
<text transform="matrix(0.9259 0 0 1.1059 402.81 728.80)" font-size="39.40" font-weight="bold" fill="#fff" fill-opacity="0.9" stroke="#fff" stroke-opacity="0.9" stroke-width="0.3">t</text>
<text transform="matrix(1.1110 0 0 1.1059 412.10 728.80)" font-size="39.40" font-weight="bold" fill="#fff" fill-opacity="0.9" stroke="#fff" stroke-opacity="0.9" stroke-width="0.3">e</text>
<text transform="matrix(1.1110 0 0 1.1059 415.10 728.80)" font-size="39.40" font-weight="bold" fill="#fff" fill-opacity="0.9" stroke="#fff" stroke-opacity="0.9" stroke-width="0.3">e</text>
<text transform="matrix(1.0646 0 0 1.1059 430.27 728.80)" font-size="39.40" font-weight="bold" fill="#fff" fill-opacity="0.9" stroke="#fff" stroke-opacity="0.9" stroke-width="0.3">m</text>
<text transform="matrix(1.0646 0 0 1.1059 433.27 728.80)" font-size="39.40" font-weight="bold" fill="#fff" fill-opacity="0.9" stroke="#fff" stroke-opacity="0.9" stroke-width="0.3">m</text>
<text transform="matrix(1.0012 0 0 1.0000 1395.89 718.70)" font-size="39.25" font-weight="bold" fill="#fff" fill-opacity="0.9" stroke="#fff" stroke-opacity="0.9" stroke-width="0.3">T</text>
<text transform="matrix(1.0012 0 0 1.0000 1398.89 718.70)" font-size="39.25" font-weight="bold" fill="#fff" fill-opacity="0.9" stroke="#fff" stroke-opacity="0.9" stroke-width="0.3">T</text>
<text transform="matrix(1.2481 0 0 1.1047 1418.73 718.70)" font-size="39.25" font-weight="bold" fill="#fff" fill-opacity="0.9" stroke="#fff" stroke-opacity="0.9" stroke-width="0.3">e</text>
<text transform="matrix(1.2481 0 0 1.1047 1421.73 718.70)" font-size="39.25" font-weight="bold" fill="#fff" fill-opacity="0.9" stroke="#fff" stroke-opacity="0.9" stroke-width="0.3">e</text>
<text transform="matrix(0.9856 0 0 1.1047 1438.26 718.70)" font-size="39.25" font-weight="bold" fill="#fff" fill-opacity="0.9" stroke="#fff" stroke-opacity="0.9" stroke-width="0.3">r</text>
<text transform="matrix(0.9856 0 0 1.1047 1441.26 718.70)" font-size="39.25" font-weight="bold" fill="#fff" fill-opacity="0.9" stroke="#fff" stroke-opacity="0.9" stroke-width="0.3">r</text>
<text transform="matrix(1.0629 0 0 1.1047 1454.98 718.70)" font-size="39.25" font-weight="bold" fill="#fff" fill-opacity="0.9" stroke="#fff" stroke-opacity="0.9" stroke-width="0.3">r</text>
<text transform="matrix(1.0629 0 0 1.1047 1457.98 718.70)" font-size="39.25" font-weight="bold" fill="#fff" fill-opacity="0.9" stroke="#fff" stroke-opacity="0.9" stroke-width="0.3">r</text>
<text transform="matrix(1.1618 0 0 1.1047 1472.54 718.70)" font-size="39.25" font-weight="bold" fill="#fff" fill-opacity="0.9" stroke="#fff" stroke-opacity="0.9" stroke-width="0.3">e</text>
<text transform="matrix(1.1618 0 0 1.1047 1475.54 718.70)" font-size="39.25" font-weight="bold" fill="#fff" fill-opacity="0.9" stroke="#fff" stroke-opacity="0.9" stroke-width="0.3">e</text>
<text transform="matrix(1.1579 0 0 1.1047 1492.02 718.70)" font-size="39.25" font-weight="bold" fill="#fff" fill-opacity="0.9" stroke="#fff" stroke-opacity="0.9" stroke-width="0.3">s</text>
<text transform="matrix(1.1579 0 0 1.1047 1495.02 718.70)" font-size="39.25" font-weight="bold" fill="#fff" fill-opacity="0.9" stroke="#fff" stroke-opacity="0.9" stroke-width="0.3">s</text>
<text transform="matrix(0.9050 0 0 1.1047 1509.83 718.70)" font-size="39.25" font-weight="bold" fill="#fff" fill-opacity="0.9" stroke="#fff" stroke-opacity="0.9" stroke-width="0.3">t</text>
<text transform="matrix(0.9050 0 0 1.1047 1512.83 718.70)" font-size="39.25" font-weight="bold" fill="#fff" fill-opacity="0.9" stroke="#fff" stroke-opacity="0.9" stroke-width="0.3">t</text>
<text transform="matrix(0.9599 0 0 1.1047 1521.69 718.70)" font-size="39.25" font-weight="bold" fill="#fff" fill-opacity="0.9" stroke="#fff" stroke-opacity="0.9" stroke-width="0.3">r</text>
<text transform="matrix(0.9599 0 0 1.1047 1524.69 718.70)" font-size="39.25" font-weight="bold" fill="#fff" fill-opacity="0.9" stroke="#fff" stroke-opacity="0.9" stroke-width="0.3">r</text>
<text transform="matrix(1.0774 0 0 0.9804 1538.57 718.70)" font-size="39.25" font-weight="bold" fill="#fff" fill-opacity="0.9" stroke="#fff" stroke-opacity="0.9" stroke-width="0.3">i</text>
<text transform="matrix(1.0774 0 0 0.9804 1541.57 718.70)" font-size="39.25" font-weight="bold" fill="#fff" fill-opacity="0.9" stroke="#fff" stroke-opacity="0.9" stroke-width="0.3">i</text>
<text transform="matrix(0.9625 0 0 1.1047 1550.28 718.70)" font-size="39.25" font-weight="bold" fill="#fff" fill-opacity="0.9" stroke="#fff" stroke-opacity="0.9" stroke-width="0.3">a</text>
<text transform="matrix(0.9625 0 0 1.1047 1553.28 718.70)" font-size="39.25" font-weight="bold" fill="#fff" fill-opacity="0.9" stroke="#fff" stroke-opacity="0.9" stroke-width="0.3">a</text>
<text transform="matrix(1.2781 0 0 0.9804 1567.52 718.70)" font-size="39.25" font-weight="bold" fill="#fff" fill-opacity="0.9" stroke="#fff" stroke-opacity="0.9" stroke-width="0.3">l</text>
<text transform="matrix(1.2781 0 0 0.9804 1570.52 718.70)" font-size="39.25" font-weight="bold" fill="#fff" fill-opacity="0.9" stroke="#fff" stroke-opacity="0.9" stroke-width="0.3">l</text>
<text transform="matrix(0.9108 0 0 1.0000 1587.79 718.70)" font-size="39.25" font-weight="bold" fill="#fff" fill-opacity="0.9" stroke="#fff" stroke-opacity="0.9" stroke-width="0.3">E</text>
<text transform="matrix(0.9108 0 0 1.0000 1590.79 718.70)" font-size="39.25" font-weight="bold" fill="#fff" fill-opacity="0.9" stroke="#fff" stroke-opacity="0.9" stroke-width="0.3">E</text>
<text transform="matrix(0.9867 0 0 1.1047 1609.68 718.70)" font-size="39.25" font-weight="bold" fill="#fff" fill-opacity="0.9" stroke="#fff" stroke-opacity="0.9" stroke-width="0.3">c</text>
<text transform="matrix(0.9867 0 0 1.1047 1612.68 718.70)" font-size="39.25" font-weight="bold" fill="#fff" fill-opacity="0.9" stroke="#fff" stroke-opacity="0.9" stroke-width="0.3">c</text>
<text transform="matrix(1.0881 0 0 1.1047 1625.47 718.70)" font-size="39.25" font-weight="bold" fill="#fff" fill-opacity="0.9" stroke="#fff" stroke-opacity="0.9" stroke-width="0.3">o</text>
<text transform="matrix(1.0881 0 0 1.1047 1628.47 718.70)" font-size="39.25" font-weight="bold" fill="#fff" fill-opacity="0.9" stroke="#fff" stroke-opacity="0.9" stroke-width="0.3">o</text>
<text transform="matrix(1.1807 0 0 1.1047 1646.30 718.70)" font-size="39.25" font-weight="bold" fill="#fff" fill-opacity="0.9" stroke="#fff" stroke-opacity="0.9" stroke-width="0.3">s</text>
<text transform="matrix(1.1807 0 0 1.1047 1649.30 718.70)" font-size="39.25" font-weight="bold" fill="#fff" fill-opacity="0.9" stroke="#fff" stroke-opacity="0.9" stroke-width="0.3">s</text>
<text transform="matrix(0.9651 0 0 1.0534 1664.63 717.78)" font-size="39.25" font-weight="bold" fill="#fff" fill-opacity="0.9" stroke="#fff" stroke-opacity="0.9" stroke-width="0.3">y</text>
<text transform="matrix(0.9651 0 0 1.0534 1667.63 717.78)" font-size="39.25" font-weight="bold" fill="#fff" fill-opacity="0.9" stroke="#fff" stroke-opacity="0.9" stroke-width="0.3">y</text>
<text transform="matrix(1.2493 0 0 1.1047 1680.92 718.70)" font-size="39.25" font-weight="bold" fill="#fff" fill-opacity="0.9" stroke="#fff" stroke-opacity="0.9" stroke-width="0.3">s</text>
<text transform="matrix(1.2493 0 0 1.1047 1683.92 718.70)" font-size="39.25" font-weight="bold" fill="#fff" fill-opacity="0.9" stroke="#fff" stroke-opacity="0.9" stroke-width="0.3">s</text>
<text transform="matrix(0.9295 0 0 1.1047 1699.81 718.70)" font-size="39.25" font-weight="bold" fill="#fff" fill-opacity="0.9" stroke="#fff" stroke-opacity="0.9" stroke-width="0.3">t</text>
<text transform="matrix(0.9295 0 0 1.1047 1702.81 718.70)" font-size="39.25" font-weight="bold" fill="#fff" fill-opacity="0.9" stroke="#fff" stroke-opacity="0.9" stroke-width="0.3">t</text>
<text transform="matrix(1.1153 0 0 1.1047 1712.10 718.70)" font-size="39.25" font-weight="bold" fill="#fff" fill-opacity="0.9" stroke="#fff" stroke-opacity="0.9" stroke-width="0.3">e</text>
<text transform="matrix(1.1153 0 0 1.1047 1715.10 718.70)" font-size="39.25" font-weight="bold" fill="#fff" fill-opacity="0.9" stroke="#fff" stroke-opacity="0.9" stroke-width="0.3">e</text>
<text transform="matrix(1.0688 0 0 1.1047 1730.27 718.70)" font-size="39.25" font-weight="bold" fill="#fff" fill-opacity="0.9" stroke="#fff" stroke-opacity="0.9" stroke-width="0.3">m</text>
<text transform="matrix(1.0688 0 0 1.1047 1733.27 718.70)" font-size="39.25" font-weight="bold" fill="#fff" fill-opacity="0.9" stroke="#fff" stroke-opacity="0.9" stroke-width="0.3">m</text>
<text transform="matrix(0.7965 0 0 1.0000 628.29 719.50)" font-size="39.71" font-weight="bold" fill="#fff" fill-opacity="0.9" stroke="#fff" stroke-opacity="0.9" stroke-width="0.3">A</text>
<text transform="matrix(0.7965 0 0 1.0000 631.29 719.50)" font-size="39.71" font-weight="bold" fill="#fff" fill-opacity="0.9" stroke="#fff" stroke-opacity="0.9" stroke-width="0.3">A</text>
<text transform="matrix(0.9758 0 0 1.0683 651.41 718.47)" font-size="39.71" font-weight="bold" fill="#fff" fill-opacity="0.9" stroke="#fff" stroke-opacity="0.9" stroke-width="0.3">q</text>
<text transform="matrix(0.9758 0 0 1.0683 654.41 718.47)" font-size="39.71" font-weight="bold" fill="#fff" fill-opacity="0.9" stroke="#fff" stroke-opacity="0.9" stroke-width="0.3">q</text>
<text transform="matrix(0.9698 0 0 1.1248 673.32 719.50)" font-size="39.71" font-weight="bold" fill="#fff" fill-opacity="0.9" stroke="#fff" stroke-opacity="0.9" stroke-width="0.3">u</text>
<text transform="matrix(0.9698 0 0 1.1248 676.32 719.50)" font-size="39.71" font-weight="bold" fill="#fff" fill-opacity="0.9" stroke="#fff" stroke-opacity="0.9" stroke-width="0.3">u</text>
<text transform="matrix(0.9570 0 0 1.1248 694.28 719.50)" font-size="39.71" font-weight="bold" fill="#fff" fill-opacity="0.9" stroke="#fff" stroke-opacity="0.9" stroke-width="0.3">a</text>
<text transform="matrix(0.9570 0 0 1.1248 697.28 719.50)" font-size="39.71" font-weight="bold" fill="#fff" fill-opacity="0.9" stroke="#fff" stroke-opacity="0.9" stroke-width="0.3">a</text>
<text transform="matrix(0.9993 0 0 1.1248 713.16 719.50)" font-size="39.71" font-weight="bold" fill="#fff" fill-opacity="0.9" stroke="#fff" stroke-opacity="0.9" stroke-width="0.3">t</text>
<text transform="matrix(0.9993 0 0 1.1248 716.16 719.50)" font-size="39.71" font-weight="bold" fill="#fff" fill-opacity="0.9" stroke="#fff" stroke-opacity="0.9" stroke-width="0.3">t</text>
<text transform="matrix(0.9188 0 0 0.9800 727.20 719.50)" font-size="39.71" font-weight="bold" fill="#fff" fill-opacity="0.9" stroke="#fff" stroke-opacity="0.9" stroke-width="0.3">i</text>
<text transform="matrix(0.9188 0 0 0.9800 730.20 719.50)" font-size="39.71" font-weight="bold" fill="#fff" fill-opacity="0.9" stroke="#fff" stroke-opacity="0.9" stroke-width="0.3">i</text>
<text transform="matrix(1.1258 0 0 1.1248 736.77 719.50)" font-size="39.71" font-weight="bold" fill="#fff" fill-opacity="0.9" stroke="#fff" stroke-opacity="0.9" stroke-width="0.3">c</text>
<text transform="matrix(1.1258 0 0 1.1248 739.77 719.50)" font-size="39.71" font-weight="bold" fill="#fff" fill-opacity="0.9" stroke="#fff" stroke-opacity="0.9" stroke-width="0.3">c</text>
<text transform="matrix(0.8961 0 0 1.0000 770.59 719.50)" font-size="39.71" font-weight="bold" fill="#fff" fill-opacity="0.9" stroke="#fff" stroke-opacity="0.9" stroke-width="0.3">E</text>
<text transform="matrix(0.8961 0 0 1.0000 773.59 719.50)" font-size="39.71" font-weight="bold" fill="#fff" fill-opacity="0.9" stroke="#fff" stroke-opacity="0.9" stroke-width="0.3">E</text>
<text transform="matrix(1.0407 0 0 1.1248 791.99 719.50)" font-size="39.71" font-weight="bold" fill="#fff" fill-opacity="0.9" stroke="#fff" stroke-opacity="0.9" stroke-width="0.3">c</text>
<text transform="matrix(1.0407 0 0 1.1248 794.99 719.50)" font-size="39.71" font-weight="bold" fill="#fff" fill-opacity="0.9" stroke="#fff" stroke-opacity="0.9" stroke-width="0.3">c</text>
<text transform="matrix(1.0399 0 0 1.1248 809.13 719.50)" font-size="39.71" font-weight="bold" fill="#fff" fill-opacity="0.9" stroke="#fff" stroke-opacity="0.9" stroke-width="0.3">o</text>
<text transform="matrix(1.0399 0 0 1.1248 812.13 719.50)" font-size="39.71" font-weight="bold" fill="#fff" fill-opacity="0.9" stroke="#fff" stroke-opacity="0.9" stroke-width="0.3">o</text>
<text transform="matrix(1.1746 0 0 1.1248 828.59 719.50)" font-size="39.71" font-weight="bold" fill="#fff" fill-opacity="0.9" stroke="#fff" stroke-opacity="0.9" stroke-width="0.3">s</text>
<text transform="matrix(1.1746 0 0 1.1248 831.59 719.50)" font-size="39.71" font-weight="bold" fill="#fff" fill-opacity="0.9" stroke="#fff" stroke-opacity="0.9" stroke-width="0.3">s</text>
<text transform="matrix(0.9854 0 0 1.0637 845.12 718.38)" font-size="39.71" font-weight="bold" fill="#fff" fill-opacity="0.9" stroke="#fff" stroke-opacity="0.9" stroke-width="0.3">y</text>
<text transform="matrix(0.9854 0 0 1.0637 848.12 718.38)" font-size="39.71" font-weight="bold" fill="#fff" fill-opacity="0.9" stroke="#fff" stroke-opacity="0.9" stroke-width="0.3">y</text>
<text transform="matrix(1.2424 0 0 1.1248 863.61 719.50)" font-size="39.71" font-weight="bold" fill="#fff" fill-opacity="0.9" stroke="#fff" stroke-opacity="0.9" stroke-width="0.3">s</text>
<text transform="matrix(1.2424 0 0 1.1248 866.61 719.50)" font-size="39.71" font-weight="bold" fill="#fff" fill-opacity="0.9" stroke="#fff" stroke-opacity="0.9" stroke-width="0.3">s</text>
<text transform="matrix(0.9510 0 0 1.1248 882.79 719.50)" font-size="39.71" font-weight="bold" fill="#fff" fill-opacity="0.9" stroke="#fff" stroke-opacity="0.9" stroke-width="0.3">t</text>
<text transform="matrix(0.9510 0 0 1.1248 885.79 719.50)" font-size="39.71" font-weight="bold" fill="#fff" fill-opacity="0.9" stroke="#fff" stroke-opacity="0.9" stroke-width="0.3">t</text>
<text transform="matrix(1.1484 0 0 1.1248 894.74 719.50)" font-size="39.71" font-weight="bold" fill="#fff" fill-opacity="0.9" stroke="#fff" stroke-opacity="0.9" stroke-width="0.3">e</text>
<text transform="matrix(1.1484 0 0 1.1248 897.74 719.50)" font-size="39.71" font-weight="bold" fill="#fff" fill-opacity="0.9" stroke="#fff" stroke-opacity="0.9" stroke-width="0.3">e</text>
<text transform="matrix(1.0469 0 0 1.1248 913.28 719.50)" font-size="39.71" font-weight="bold" fill="#fff" fill-opacity="0.9" stroke="#fff" stroke-opacity="0.9" stroke-width="0.3">m</text>
<text transform="matrix(1.0469 0 0 1.1248 916.28 719.50)" font-size="39.71" font-weight="bold" fill="#fff" fill-opacity="0.9" stroke="#fff" stroke-opacity="0.9" stroke-width="0.3">m</text>
<text transform="matrix(0.7911 0 0 1.0000 1902.08 721.00)" font-size="41.23" font-weight="bold" fill="#fff" fill-opacity="0.9" stroke="#fff" stroke-opacity="0.9" stroke-width="0.3">A</text>
<text transform="matrix(0.7911 0 0 1.0000 1905.08 721.00)" font-size="41.23" font-weight="bold" fill="#fff" fill-opacity="0.9" stroke="#fff" stroke-opacity="0.9" stroke-width="0.3">A</text>
<text transform="matrix(1.0116 0 0 1.0107 1925.79 720.13)" font-size="41.23" font-weight="bold" fill="#fff" fill-opacity="0.9" stroke="#fff" stroke-opacity="0.9" stroke-width="0.3">q</text>
<text transform="matrix(1.0116 0 0 1.0107 1928.79 720.13)" font-size="41.23" font-weight="bold" fill="#fff" fill-opacity="0.9" stroke="#fff" stroke-opacity="0.9" stroke-width="0.3">q</text>
<text transform="matrix(0.9952 0 0 1.0568 1949.08 721.00)" font-size="41.23" font-weight="bold" fill="#fff" fill-opacity="0.9" stroke="#fff" stroke-opacity="0.9" stroke-width="0.3">u</text>
<text transform="matrix(0.9952 0 0 1.0568 1952.08 721.00)" font-size="41.23" font-weight="bold" fill="#fff" fill-opacity="0.9" stroke="#fff" stroke-opacity="0.9" stroke-width="0.3">u</text>
<text transform="matrix(0.9751 0 0 1.0568 1970.30 721.00)" font-size="41.23" font-weight="bold" fill="#fff" fill-opacity="0.9" stroke="#fff" stroke-opacity="0.9" stroke-width="0.3">a</text>
<text transform="matrix(0.9751 0 0 1.0568 1973.30 721.00)" font-size="41.23" font-weight="bold" fill="#fff" fill-opacity="0.9" stroke="#fff" stroke-opacity="0.9" stroke-width="0.3">a</text>
<text transform="matrix(1.0399 0 0 1.0568 1990.51 721.00)" font-size="41.23" font-weight="bold" fill="#fff" fill-opacity="0.9" stroke="#fff" stroke-opacity="0.9" stroke-width="0.3">t</text>
<text transform="matrix(1.0399 0 0 1.0568 1993.51 721.00)" font-size="41.23" font-weight="bold" fill="#fff" fill-opacity="0.9" stroke="#fff" stroke-opacity="0.9" stroke-width="0.3">t</text>
<text transform="matrix(0.9149 0 0 0.9787 2005.57 721.00)" font-size="41.23" font-weight="bold" fill="#fff" fill-opacity="0.9" stroke="#fff" stroke-opacity="0.9" stroke-width="0.3">i</text>
<text transform="matrix(0.9149 0 0 0.9787 2008.57 721.00)" font-size="41.23" font-weight="bold" fill="#fff" fill-opacity="0.9" stroke="#fff" stroke-opacity="0.9" stroke-width="0.3">i</text>
<text transform="matrix(1.1661 0 0 1.0568 2015.36 721.00)" font-size="41.23" font-weight="bold" fill="#fff" fill-opacity="0.9" stroke="#fff" stroke-opacity="0.9" stroke-width="0.3">c</text>
<text transform="matrix(1.1661 0 0 1.0568 2018.36 721.00)" font-size="41.23" font-weight="bold" fill="#fff" fill-opacity="0.9" stroke="#fff" stroke-opacity="0.9" stroke-width="0.3">c</text>
<text transform="matrix(0.8791 0 0 1.0000 2041.48 721.00)" font-size="41.23" font-weight="bold" fill="#fff" fill-opacity="0.9" stroke="#fff" stroke-opacity="0.9" stroke-width="0.3">E</text>
<text transform="matrix(0.8791 0 0 1.0000 2044.48 721.00)" font-size="41.23" font-weight="bold" fill="#fff" fill-opacity="0.9" stroke="#fff" stroke-opacity="0.9" stroke-width="0.3">E</text>
<text transform="matrix(1.0085 0 0 1.0568 2063.18 721.00)" font-size="41.23" font-weight="bold" fill="#fff" fill-opacity="0.9" stroke="#fff" stroke-opacity="0.9" stroke-width="0.3">c</text>
<text transform="matrix(1.0085 0 0 1.0568 2066.18 721.00)" font-size="41.23" font-weight="bold" fill="#fff" fill-opacity="0.9" stroke="#fff" stroke-opacity="0.9" stroke-width="0.3">c</text>
<text transform="matrix(1.0185 0 0 1.0568 2080.80 721.00)" font-size="41.23" font-weight="bold" fill="#fff" fill-opacity="0.9" stroke="#fff" stroke-opacity="0.9" stroke-width="0.3">o</text>
<text transform="matrix(1.0185 0 0 1.0568 2083.80 721.00)" font-size="41.23" font-weight="bold" fill="#fff" fill-opacity="0.9" stroke="#fff" stroke-opacity="0.9" stroke-width="0.3">o</text>
<text transform="matrix(1.1601 0 0 1.0568 2100.15 721.00)" font-size="41.23" font-weight="bold" fill="#fff" fill-opacity="0.9" stroke="#fff" stroke-opacity="0.9" stroke-width="0.3">s</text>
<text transform="matrix(1.1601 0 0 1.0568 2103.15 721.00)" font-size="41.23" font-weight="bold" fill="#fff" fill-opacity="0.9" stroke="#fff" stroke-opacity="0.9" stroke-width="0.3">s</text>
<text transform="matrix(0.9792 0 0 1.0063 2117.01 720.04)" font-size="41.23" font-weight="bold" fill="#fff" fill-opacity="0.9" stroke="#fff" stroke-opacity="0.9" stroke-width="0.3">y</text>
<text transform="matrix(0.9792 0 0 1.0063 2120.01 720.04)" font-size="41.23" font-weight="bold" fill="#fff" fill-opacity="0.9" stroke="#fff" stroke-opacity="0.9" stroke-width="0.3">y</text>
<text transform="matrix(1.1819 0 0 1.0568 2137.12 721.00)" font-size="41.23" font-weight="bold" fill="#fff" fill-opacity="0.9" stroke="#fff" stroke-opacity="0.9" stroke-width="0.3">s</text>
<text transform="matrix(1.1819 0 0 1.0568 2140.12 721.00)" font-size="41.23" font-weight="bold" fill="#fff" fill-opacity="0.9" stroke="#fff" stroke-opacity="0.9" stroke-width="0.3">s</text>
<text transform="matrix(0.9546 0 0 1.0568 2156.07 721.00)" font-size="41.23" font-weight="bold" fill="#fff" fill-opacity="0.9" stroke="#fff" stroke-opacity="0.9" stroke-width="0.3">t</text>
<text transform="matrix(0.9546 0 0 1.0568 2159.07 721.00)" font-size="41.23" font-weight="bold" fill="#fff" fill-opacity="0.9" stroke="#fff" stroke-opacity="0.9" stroke-width="0.3">t</text>
<text transform="matrix(1.1437 0 0 1.0568 2168.59 721.00)" font-size="41.23" font-weight="bold" fill="#fff" fill-opacity="0.9" stroke="#fff" stroke-opacity="0.9" stroke-width="0.3">e</text>
<text transform="matrix(1.1437 0 0 1.0568 2171.59 721.00)" font-size="41.23" font-weight="bold" fill="#fff" fill-opacity="0.9" stroke="#fff" stroke-opacity="0.9" stroke-width="0.3">e</text>
<text transform="matrix(1.0450 0 0 1.0568 2187.64 721.00)" font-size="41.23" font-weight="bold" fill="#fff" fill-opacity="0.9" stroke="#fff" stroke-opacity="0.9" stroke-width="0.3">m</text>
<text transform="matrix(1.0450 0 0 1.0568 2190.64 721.00)" font-size="41.23" font-weight="bold" fill="#fff" fill-opacity="0.9" stroke="#fff" stroke-opacity="0.9" stroke-width="0.3">m</text>
<text transform="matrix(1.0846 0 0 1.0000 990.89 210.00)" font-size="58.03" font-weight="normal" fill="#000" stroke="#000" stroke-width="0.5" stroke-linejoin="round">E</text>
<text transform="matrix(1.1993 0 0 1.0437 1027.05 210.00)" font-size="58.03" font-weight="normal" fill="#000" stroke="#000" stroke-width="0.5" stroke-linejoin="round">c</text>
<text transform="matrix(1.2319 0 0 1.0437 1054.98 210.00)" font-size="58.03" font-weight="normal" fill="#000" stroke="#000" stroke-width="0.5" stroke-linejoin="round">o</text>
<text transform="matrix(1.4083 0 0 1.0437 1087.55 210.00)" font-size="58.03" font-weight="normal" fill="#000" stroke="#000" stroke-width="0.5" stroke-linejoin="round">s</text>
<text transform="matrix(1.2393 0 0 0.9857 1115.92 208.45)" font-size="58.03" font-weight="normal" fill="#000" stroke="#000" stroke-width="0.5" stroke-linejoin="round">y</text>
<text transform="matrix(1.4028 0 0 1.0437 1147.46 210.00)" font-size="58.03" font-weight="normal" fill="#000" stroke="#000" stroke-width="0.5" stroke-linejoin="round">s</text>
<text transform="matrix(1.4721 0 0 1.0437 1177.97 210.00)" font-size="58.03" font-weight="normal" fill="#000" stroke="#000" stroke-width="0.5" stroke-linejoin="round">t</text>
<text transform="matrix(1.3315 0 0 1.0437 1198.28 210.00)" font-size="58.03" font-weight="normal" fill="#000" stroke="#000" stroke-width="0.5" stroke-linejoin="round">e</text>
<text transform="matrix(1.2135 0 0 1.0437 1230.32 210.00)" font-size="58.03" font-weight="normal" fill="#000" stroke="#000" stroke-width="0.5" stroke-linejoin="round">m</text>
<text transform="matrix(0.8858 0 0 1.0000 396.00 438.00)" font-size="41.23" font-weight="bold" fill="#2cb758" stroke="#2cb758" stroke-width="0.3" stroke-linejoin="round">N</text>
<text transform="matrix(0.9859 0 0 1.0568 421.49 438.00)" font-size="41.23" font-weight="bold" fill="#2cb758" stroke="#2cb758" stroke-width="0.3" stroke-linejoin="round">a</text>
<text transform="matrix(0.9623 0 0 1.0568 441.06 438.00)" font-size="41.23" font-weight="bold" fill="#2cb758" stroke="#2cb758" stroke-width="0.3" stroke-linejoin="round">t</text>
<text transform="matrix(1.0094 0 0 1.0568 455.27 438.00)" font-size="41.23" font-weight="bold" fill="#2cb758" stroke="#2cb758" stroke-width="0.3" stroke-linejoin="round">u</text>
<text transform="matrix(0.9504 0 0 1.0568 478.05 438.00)" font-size="41.23" font-weight="bold" fill="#2cb758" stroke="#2cb758" stroke-width="0.3" stroke-linejoin="round">r</text>
<text transform="matrix(1.0073 0 0 1.0568 493.16 438.00)" font-size="41.23" font-weight="bold" fill="#2cb758" stroke="#2cb758" stroke-width="0.3" stroke-linejoin="round">a</text>
<text transform="matrix(1.3372 0 0 0.9787 512.72 438.00)" font-size="41.23" font-weight="bold" fill="#2cb758" stroke="#2cb758" stroke-width="0.3" stroke-linejoin="round">l</text>
<text transform="matrix(0.6968 0 0 1.0000 536.21 438.00)" font-size="41.23" font-weight="bold" fill="#2cb758" stroke="#2cb758" stroke-width="0.3" stroke-linejoin="round">E</text>
<text transform="matrix(0.9770 0 0 1.0568 554.02 438.00)" font-size="41.23" font-weight="bold" fill="#2cb758" stroke="#2cb758" stroke-width="0.3" stroke-linejoin="round">c</text>
<text transform="matrix(0.9670 0 0 1.0568 571.18 438.00)" font-size="41.23" font-weight="bold" fill="#2cb758" stroke="#2cb758" stroke-width="0.3" stroke-linejoin="round">o</text>
<text transform="matrix(1.1094 0 0 1.0568 590.62 438.00)" font-size="41.23" font-weight="bold" fill="#2cb758" stroke="#2cb758" stroke-width="0.3" stroke-linejoin="round">s</text>
<text transform="matrix(0.9338 0 0 0.9596 607.42 436.16)" font-size="41.23" font-weight="bold" fill="#2cb758" stroke="#2cb758" stroke-width="0.3" stroke-linejoin="round">y</text>
<text transform="matrix(1.1746 0 0 1.0568 625.33 438.00)" font-size="41.23" font-weight="bold" fill="#2cb758" stroke="#2cb758" stroke-width="0.3" stroke-linejoin="round">s</text>
<text transform="matrix(0.9546 0 0 1.0568 644.17 438.00)" font-size="41.23" font-weight="bold" fill="#2cb758" stroke="#2cb758" stroke-width="0.3" stroke-linejoin="round">t</text>
<text transform="matrix(1.0490 0 0 1.0568 657.12 438.00)" font-size="41.23" font-weight="bold" fill="#2cb758" stroke="#2cb758" stroke-width="0.3" stroke-linejoin="round">e</text>
<text transform="matrix(1.0081 0 0 1.0568 675.18 438.00)" font-size="41.23" font-weight="bold" fill="#2cb758" stroke="#2cb758" stroke-width="0.3" stroke-linejoin="round">m</text>
<text transform="matrix(0.7644 0 0 1.0000 1660.70 447.00)" font-size="39.71" font-weight="bold" fill="#2cb758" stroke="#2cb758" stroke-width="0.3" stroke-linejoin="round">A</text>
<text transform="matrix(1.0316 0 0 1.0974 1683.10 447.00)" font-size="39.71" font-weight="bold" fill="#2cb758" stroke="#2cb758" stroke-width="0.3" stroke-linejoin="round">r</text>
<text transform="matrix(0.9429 0 0 1.0974 1701.60 447.00)" font-size="39.71" font-weight="bold" fill="#2cb758" stroke="#2cb758" stroke-width="0.3" stroke-linejoin="round">t</text>
<text transform="matrix(0.8875 0 0 0.9800 1714.93 447.00)" font-size="39.71" font-weight="bold" fill="#2cb758" stroke="#2cb758" stroke-width="0.3" stroke-linejoin="round">i</text>
<text transform="matrix(0.7358 0 0 0.9657 1726.49 447.00)" font-size="39.71" font-weight="bold" fill="#2cb758" stroke="#2cb758" stroke-width="0.3" stroke-linejoin="round">f</text>
<text transform="matrix(0.9606 0 0 0.9800 1736.76 447.00)" font-size="39.71" font-weight="bold" fill="#2cb758" stroke="#2cb758" stroke-width="0.3" stroke-linejoin="round">i</text>
<text transform="matrix(1.0604 0 0 1.0974 1747.16 447.00)" font-size="39.71" font-weight="bold" fill="#2cb758" stroke="#2cb758" stroke-width="0.3" stroke-linejoin="round">c</text>
<text transform="matrix(0.8875 0 0 0.9800 1765.83 447.00)" font-size="39.71" font-weight="bold" fill="#2cb758" stroke="#2cb758" stroke-width="0.3" stroke-linejoin="round">i</text>
<text transform="matrix(0.9014 0 0 1.0974 1775.75 447.00)" font-size="39.71" font-weight="bold" fill="#2cb758" stroke="#2cb758" stroke-width="0.3" stroke-linejoin="round">a</text>
<text transform="matrix(1.2216 0 0 0.9800 1792.65 447.00)" font-size="39.71" font-weight="bold" fill="#2cb758" stroke="#2cb758" stroke-width="0.3" stroke-linejoin="round">l</text>
<text transform="matrix(0.9129 0 0 1.0000 1812.98 447.00)" font-size="39.71" font-weight="bold" fill="#2cb758" stroke="#2cb758" stroke-width="0.3" stroke-linejoin="round">E</text>
<text transform="matrix(1.0211 0 0 1.0974 1834.71 447.00)" font-size="39.71" font-weight="bold" fill="#2cb758" stroke="#2cb758" stroke-width="0.3" stroke-linejoin="round">c</text>
<text transform="matrix(1.0042 0 0 1.0974 1851.98 447.00)" font-size="39.71" font-weight="bold" fill="#2cb758" stroke="#2cb758" stroke-width="0.3" stroke-linejoin="round">o</text>
<text transform="matrix(1.1746 0 0 1.0974 1871.39 447.00)" font-size="39.71" font-weight="bold" fill="#2cb758" stroke="#2cb758" stroke-width="0.3" stroke-linejoin="round">s</text>
<text transform="matrix(1.0012 0 0 1.0338 1888.21 445.84)" font-size="39.71" font-weight="bold" fill="#2cb758" stroke="#2cb758" stroke-width="0.3" stroke-linejoin="round">y</text>
<text transform="matrix(1.2198 0 0 1.0974 1906.73 447.00)" font-size="39.71" font-weight="bold" fill="#2cb758" stroke="#2cb758" stroke-width="0.3" stroke-linejoin="round">s</text>
<text transform="matrix(0.9993 0 0 1.0974 1925.56 447.00)" font-size="39.71" font-weight="bold" fill="#2cb758" stroke="#2cb758" stroke-width="0.3" stroke-linejoin="round">t</text>
<text transform="matrix(1.1549 0 0 1.0974 1938.13 447.00)" font-size="39.71" font-weight="bold" fill="#2cb758" stroke="#2cb758" stroke-width="0.3" stroke-linejoin="round">e</text>
<text transform="matrix(0.9735 0 0 1.0974 1957.36 447.00)" font-size="39.71" font-weight="bold" fill="#2cb758" stroke="#2cb758" stroke-width="0.3" stroke-linejoin="round">m</text>
<text transform="matrix(0.9973 0 0 1.0000 97.39 728.80)" font-size="39.40" font-weight="bold" fill="#ac55b2" stroke="#ac55b2" stroke-width="0.3" stroke-linejoin="round">T</text>
<text transform="matrix(1.2432 0 0 1.1059 120.23 728.80)" font-size="39.40" font-weight="bold" fill="#ac55b2" stroke="#ac55b2" stroke-width="0.3" stroke-linejoin="round">e</text>
<text transform="matrix(0.9818 0 0 1.1059 139.76 728.80)" font-size="39.40" font-weight="bold" fill="#ac55b2" stroke="#ac55b2" stroke-width="0.3" stroke-linejoin="round">r</text>
<text transform="matrix(1.0588 0 0 1.1059 156.48 728.80)" font-size="39.40" font-weight="bold" fill="#ac55b2" stroke="#ac55b2" stroke-width="0.3" stroke-linejoin="round">r</text>
<text transform="matrix(1.1573 0 0 1.1059 174.04 728.80)" font-size="39.40" font-weight="bold" fill="#ac55b2" stroke="#ac55b2" stroke-width="0.3" stroke-linejoin="round">e</text>
<text transform="matrix(1.1534 0 0 1.1059 193.52 728.80)" font-size="39.40" font-weight="bold" fill="#ac55b2" stroke="#ac55b2" stroke-width="0.3" stroke-linejoin="round">s</text>
<text transform="matrix(0.9015 0 0 1.1059 211.33 728.80)" font-size="39.40" font-weight="bold" fill="#ac55b2" stroke="#ac55b2" stroke-width="0.3" stroke-linejoin="round">t</text>
<text transform="matrix(0.9561 0 0 1.1059 223.19 728.80)" font-size="39.40" font-weight="bold" fill="#ac55b2" stroke="#ac55b2" stroke-width="0.3" stroke-linejoin="round">r</text>
<text transform="matrix(1.0732 0 0 0.9803 240.07 728.80)" font-size="39.40" font-weight="bold" fill="#ac55b2" stroke="#ac55b2" stroke-width="0.3" stroke-linejoin="round">i</text>
<text transform="matrix(0.9588 0 0 1.1059 251.78 728.80)" font-size="39.40" font-weight="bold" fill="#ac55b2" stroke="#ac55b2" stroke-width="0.3" stroke-linejoin="round">a</text>
<text transform="matrix(1.2731 0 0 0.9803 269.02 728.80)" font-size="39.40" font-weight="bold" fill="#ac55b2" stroke="#ac55b2" stroke-width="0.3" stroke-linejoin="round">l</text>
<text transform="matrix(0.9073 0 0 1.0000 289.29 728.80)" font-size="39.40" font-weight="bold" fill="#ac55b2" stroke="#ac55b2" stroke-width="0.3" stroke-linejoin="round">E</text>
<text transform="matrix(0.9828 0 0 1.1059 311.18 728.80)" font-size="39.40" font-weight="bold" fill="#ac55b2" stroke="#ac55b2" stroke-width="0.3" stroke-linejoin="round">c</text>
<text transform="matrix(1.0839 0 0 1.1059 326.97 728.80)" font-size="39.40" font-weight="bold" fill="#ac55b2" stroke="#ac55b2" stroke-width="0.3" stroke-linejoin="round">o</text>
<text transform="matrix(1.1761 0 0 1.1059 347.80 728.80)" font-size="39.40" font-weight="bold" fill="#ac55b2" stroke="#ac55b2" stroke-width="0.3" stroke-linejoin="round">s</text>
<text transform="matrix(0.9614 0 0 1.0531 366.13 727.84)" font-size="39.40" font-weight="bold" fill="#ac55b2" stroke="#ac55b2" stroke-width="0.3" stroke-linejoin="round">y</text>
<text transform="matrix(1.2444 0 0 1.1059 382.42 728.80)" font-size="39.40" font-weight="bold" fill="#ac55b2" stroke="#ac55b2" stroke-width="0.3" stroke-linejoin="round">s</text>
<text transform="matrix(0.9259 0 0 1.1059 401.31 728.80)" font-size="39.40" font-weight="bold" fill="#ac55b2" stroke="#ac55b2" stroke-width="0.3" stroke-linejoin="round">t</text>
<text transform="matrix(1.1110 0 0 1.1059 413.60 728.80)" font-size="39.40" font-weight="bold" fill="#ac55b2" stroke="#ac55b2" stroke-width="0.3" stroke-linejoin="round">e</text>
<text transform="matrix(1.0646 0 0 1.1059 431.77 728.80)" font-size="39.40" font-weight="bold" fill="#ac55b2" stroke="#ac55b2" stroke-width="0.3" stroke-linejoin="round">m</text>
<text transform="matrix(1.0012 0 0 1.0000 1397.39 718.70)" font-size="39.25" font-weight="bold" fill="#ac55b2" stroke="#ac55b2" stroke-width="0.3" stroke-linejoin="round">T</text>
<text transform="matrix(1.2481 0 0 1.1047 1420.23 718.70)" font-size="39.25" font-weight="bold" fill="#ac55b2" stroke="#ac55b2" stroke-width="0.3" stroke-linejoin="round">e</text>
<text transform="matrix(0.9856 0 0 1.1047 1439.76 718.70)" font-size="39.25" font-weight="bold" fill="#ac55b2" stroke="#ac55b2" stroke-width="0.3" stroke-linejoin="round">r</text>
<text transform="matrix(1.0629 0 0 1.1047 1456.48 718.70)" font-size="39.25" font-weight="bold" fill="#ac55b2" stroke="#ac55b2" stroke-width="0.3" stroke-linejoin="round">r</text>
<text transform="matrix(1.1618 0 0 1.1047 1474.04 718.70)" font-size="39.25" font-weight="bold" fill="#ac55b2" stroke="#ac55b2" stroke-width="0.3" stroke-linejoin="round">e</text>
<text transform="matrix(1.1579 0 0 1.1047 1493.52 718.70)" font-size="39.25" font-weight="bold" fill="#ac55b2" stroke="#ac55b2" stroke-width="0.3" stroke-linejoin="round">s</text>
<text transform="matrix(0.9050 0 0 1.1047 1511.33 718.70)" font-size="39.25" font-weight="bold" fill="#ac55b2" stroke="#ac55b2" stroke-width="0.3" stroke-linejoin="round">t</text>
<text transform="matrix(0.9599 0 0 1.1047 1523.19 718.70)" font-size="39.25" font-weight="bold" fill="#ac55b2" stroke="#ac55b2" stroke-width="0.3" stroke-linejoin="round">r</text>
<text transform="matrix(1.0774 0 0 0.9804 1540.07 718.70)" font-size="39.25" font-weight="bold" fill="#ac55b2" stroke="#ac55b2" stroke-width="0.3" stroke-linejoin="round">i</text>
<text transform="matrix(0.9625 0 0 1.1047 1551.78 718.70)" font-size="39.25" font-weight="bold" fill="#ac55b2" stroke="#ac55b2" stroke-width="0.3" stroke-linejoin="round">a</text>
<text transform="matrix(1.2781 0 0 0.9804 1569.02 718.70)" font-size="39.25" font-weight="bold" fill="#ac55b2" stroke="#ac55b2" stroke-width="0.3" stroke-linejoin="round">l</text>
<text transform="matrix(0.9108 0 0 1.0000 1589.29 718.70)" font-size="39.25" font-weight="bold" fill="#ac55b2" stroke="#ac55b2" stroke-width="0.3" stroke-linejoin="round">E</text>
<text transform="matrix(0.9867 0 0 1.1047 1611.18 718.70)" font-size="39.25" font-weight="bold" fill="#ac55b2" stroke="#ac55b2" stroke-width="0.3" stroke-linejoin="round">c</text>
<text transform="matrix(1.0881 0 0 1.1047 1626.97 718.70)" font-size="39.25" font-weight="bold" fill="#ac55b2" stroke="#ac55b2" stroke-width="0.3" stroke-linejoin="round">o</text>
<text transform="matrix(1.1807 0 0 1.1047 1647.80 718.70)" font-size="39.25" font-weight="bold" fill="#ac55b2" stroke="#ac55b2" stroke-width="0.3" stroke-linejoin="round">s</text>
<text transform="matrix(0.9651 0 0 1.0534 1666.13 717.78)" font-size="39.25" font-weight="bold" fill="#ac55b2" stroke="#ac55b2" stroke-width="0.3" stroke-linejoin="round">y</text>
<text transform="matrix(1.2493 0 0 1.1047 1682.42 718.70)" font-size="39.25" font-weight="bold" fill="#ac55b2" stroke="#ac55b2" stroke-width="0.3" stroke-linejoin="round">s</text>
<text transform="matrix(0.9295 0 0 1.1047 1701.31 718.70)" font-size="39.25" font-weight="bold" fill="#ac55b2" stroke="#ac55b2" stroke-width="0.3" stroke-linejoin="round">t</text>
<text transform="matrix(1.1153 0 0 1.1047 1713.60 718.70)" font-size="39.25" font-weight="bold" fill="#ac55b2" stroke="#ac55b2" stroke-width="0.3" stroke-linejoin="round">e</text>
<text transform="matrix(1.0688 0 0 1.1047 1731.77 718.70)" font-size="39.25" font-weight="bold" fill="#ac55b2" stroke="#ac55b2" stroke-width="0.3" stroke-linejoin="round">m</text>
<text transform="matrix(0.7965 0 0 1.0000 629.79 719.50)" font-size="39.71" font-weight="bold" fill="#ac55b2" stroke="#ac55b2" stroke-width="0.3" stroke-linejoin="round">A</text>
<text transform="matrix(0.9758 0 0 1.0683 652.91 718.47)" font-size="39.71" font-weight="bold" fill="#ac55b2" stroke="#ac55b2" stroke-width="0.3" stroke-linejoin="round">q</text>
<text transform="matrix(0.9698 0 0 1.1248 674.82 719.50)" font-size="39.71" font-weight="bold" fill="#ac55b2" stroke="#ac55b2" stroke-width="0.3" stroke-linejoin="round">u</text>
<text transform="matrix(0.9570 0 0 1.1248 695.78 719.50)" font-size="39.71" font-weight="bold" fill="#ac55b2" stroke="#ac55b2" stroke-width="0.3" stroke-linejoin="round">a</text>
<text transform="matrix(0.9993 0 0 1.1248 714.66 719.50)" font-size="39.71" font-weight="bold" fill="#ac55b2" stroke="#ac55b2" stroke-width="0.3" stroke-linejoin="round">t</text>
<text transform="matrix(0.9188 0 0 0.9800 728.70 719.50)" font-size="39.71" font-weight="bold" fill="#ac55b2" stroke="#ac55b2" stroke-width="0.3" stroke-linejoin="round">i</text>
<text transform="matrix(1.1258 0 0 1.1248 738.27 719.50)" font-size="39.71" font-weight="bold" fill="#ac55b2" stroke="#ac55b2" stroke-width="0.3" stroke-linejoin="round">c</text>
<text transform="matrix(0.8961 0 0 1.0000 772.09 719.50)" font-size="39.71" font-weight="bold" fill="#ac55b2" stroke="#ac55b2" stroke-width="0.3" stroke-linejoin="round">E</text>
<text transform="matrix(1.0407 0 0 1.1248 793.49 719.50)" font-size="39.71" font-weight="bold" fill="#ac55b2" stroke="#ac55b2" stroke-width="0.3" stroke-linejoin="round">c</text>
<text transform="matrix(1.0399 0 0 1.1248 810.63 719.50)" font-size="39.71" font-weight="bold" fill="#ac55b2" stroke="#ac55b2" stroke-width="0.3" stroke-linejoin="round">o</text>
<text transform="matrix(1.1746 0 0 1.1248 830.09 719.50)" font-size="39.71" font-weight="bold" fill="#ac55b2" stroke="#ac55b2" stroke-width="0.3" stroke-linejoin="round">s</text>
<text transform="matrix(0.9854 0 0 1.0637 846.62 718.38)" font-size="39.71" font-weight="bold" fill="#ac55b2" stroke="#ac55b2" stroke-width="0.3" stroke-linejoin="round">y</text>
<text transform="matrix(1.2424 0 0 1.1248 865.11 719.50)" font-size="39.71" font-weight="bold" fill="#ac55b2" stroke="#ac55b2" stroke-width="0.3" stroke-linejoin="round">s</text>
<text transform="matrix(0.9510 0 0 1.1248 884.29 719.50)" font-size="39.71" font-weight="bold" fill="#ac55b2" stroke="#ac55b2" stroke-width="0.3" stroke-linejoin="round">t</text>
<text transform="matrix(1.1484 0 0 1.1248 896.24 719.50)" font-size="39.71" font-weight="bold" fill="#ac55b2" stroke="#ac55b2" stroke-width="0.3" stroke-linejoin="round">e</text>
<text transform="matrix(1.0469 0 0 1.1248 914.78 719.50)" font-size="39.71" font-weight="bold" fill="#ac55b2" stroke="#ac55b2" stroke-width="0.3" stroke-linejoin="round">m</text>
<text transform="matrix(0.7911 0 0 1.0000 1903.58 721.00)" font-size="41.23" font-weight="bold" fill="#ac55b2" stroke="#ac55b2" stroke-width="0.3" stroke-linejoin="round">A</text>
<text transform="matrix(1.0116 0 0 1.0107 1927.29 720.13)" font-size="41.23" font-weight="bold" fill="#ac55b2" stroke="#ac55b2" stroke-width="0.3" stroke-linejoin="round">q</text>
<text transform="matrix(0.9952 0 0 1.0568 1950.58 721.00)" font-size="41.23" font-weight="bold" fill="#ac55b2" stroke="#ac55b2" stroke-width="0.3" stroke-linejoin="round">u</text>
<text transform="matrix(0.9751 0 0 1.0568 1971.80 721.00)" font-size="41.23" font-weight="bold" fill="#ac55b2" stroke="#ac55b2" stroke-width="0.3" stroke-linejoin="round">a</text>
<text transform="matrix(1.0399 0 0 1.0568 1992.01 721.00)" font-size="41.23" font-weight="bold" fill="#ac55b2" stroke="#ac55b2" stroke-width="0.3" stroke-linejoin="round">t</text>
<text transform="matrix(0.9149 0 0 0.9787 2007.07 721.00)" font-size="41.23" font-weight="bold" fill="#ac55b2" stroke="#ac55b2" stroke-width="0.3" stroke-linejoin="round">i</text>
<text transform="matrix(1.1661 0 0 1.0568 2016.86 721.00)" font-size="41.23" font-weight="bold" fill="#ac55b2" stroke="#ac55b2" stroke-width="0.3" stroke-linejoin="round">c</text>
<text transform="matrix(0.8791 0 0 1.0000 2042.98 721.00)" font-size="41.23" font-weight="bold" fill="#ac55b2" stroke="#ac55b2" stroke-width="0.3" stroke-linejoin="round">E</text>
<text transform="matrix(1.0085 0 0 1.0568 2064.68 721.00)" font-size="41.23" font-weight="bold" fill="#ac55b2" stroke="#ac55b2" stroke-width="0.3" stroke-linejoin="round">c</text>
<text transform="matrix(1.0185 0 0 1.0568 2082.30 721.00)" font-size="41.23" font-weight="bold" fill="#ac55b2" stroke="#ac55b2" stroke-width="0.3" stroke-linejoin="round">o</text>
<text transform="matrix(1.1601 0 0 1.0568 2101.65 721.00)" font-size="41.23" font-weight="bold" fill="#ac55b2" stroke="#ac55b2" stroke-width="0.3" stroke-linejoin="round">s</text>
<text transform="matrix(0.9792 0 0 1.0063 2118.51 720.04)" font-size="41.23" font-weight="bold" fill="#ac55b2" stroke="#ac55b2" stroke-width="0.3" stroke-linejoin="round">y</text>
<text transform="matrix(1.1819 0 0 1.0568 2138.62 721.00)" font-size="41.23" font-weight="bold" fill="#ac55b2" stroke="#ac55b2" stroke-width="0.3" stroke-linejoin="round">s</text>
<text transform="matrix(0.9546 0 0 1.0568 2157.57 721.00)" font-size="41.23" font-weight="bold" fill="#ac55b2" stroke="#ac55b2" stroke-width="0.3" stroke-linejoin="round">t</text>
<text transform="matrix(1.1437 0 0 1.0568 2170.09 721.00)" font-size="41.23" font-weight="bold" fill="#ac55b2" stroke="#ac55b2" stroke-width="0.3" stroke-linejoin="round">e</text>
<text transform="matrix(1.0450 0 0 1.0568 2189.14 721.00)" font-size="41.23" font-weight="bold" fill="#ac55b2" stroke="#ac55b2" stroke-width="0.3" stroke-linejoin="round">m</text>
</g>
</svg>
</body></html>
